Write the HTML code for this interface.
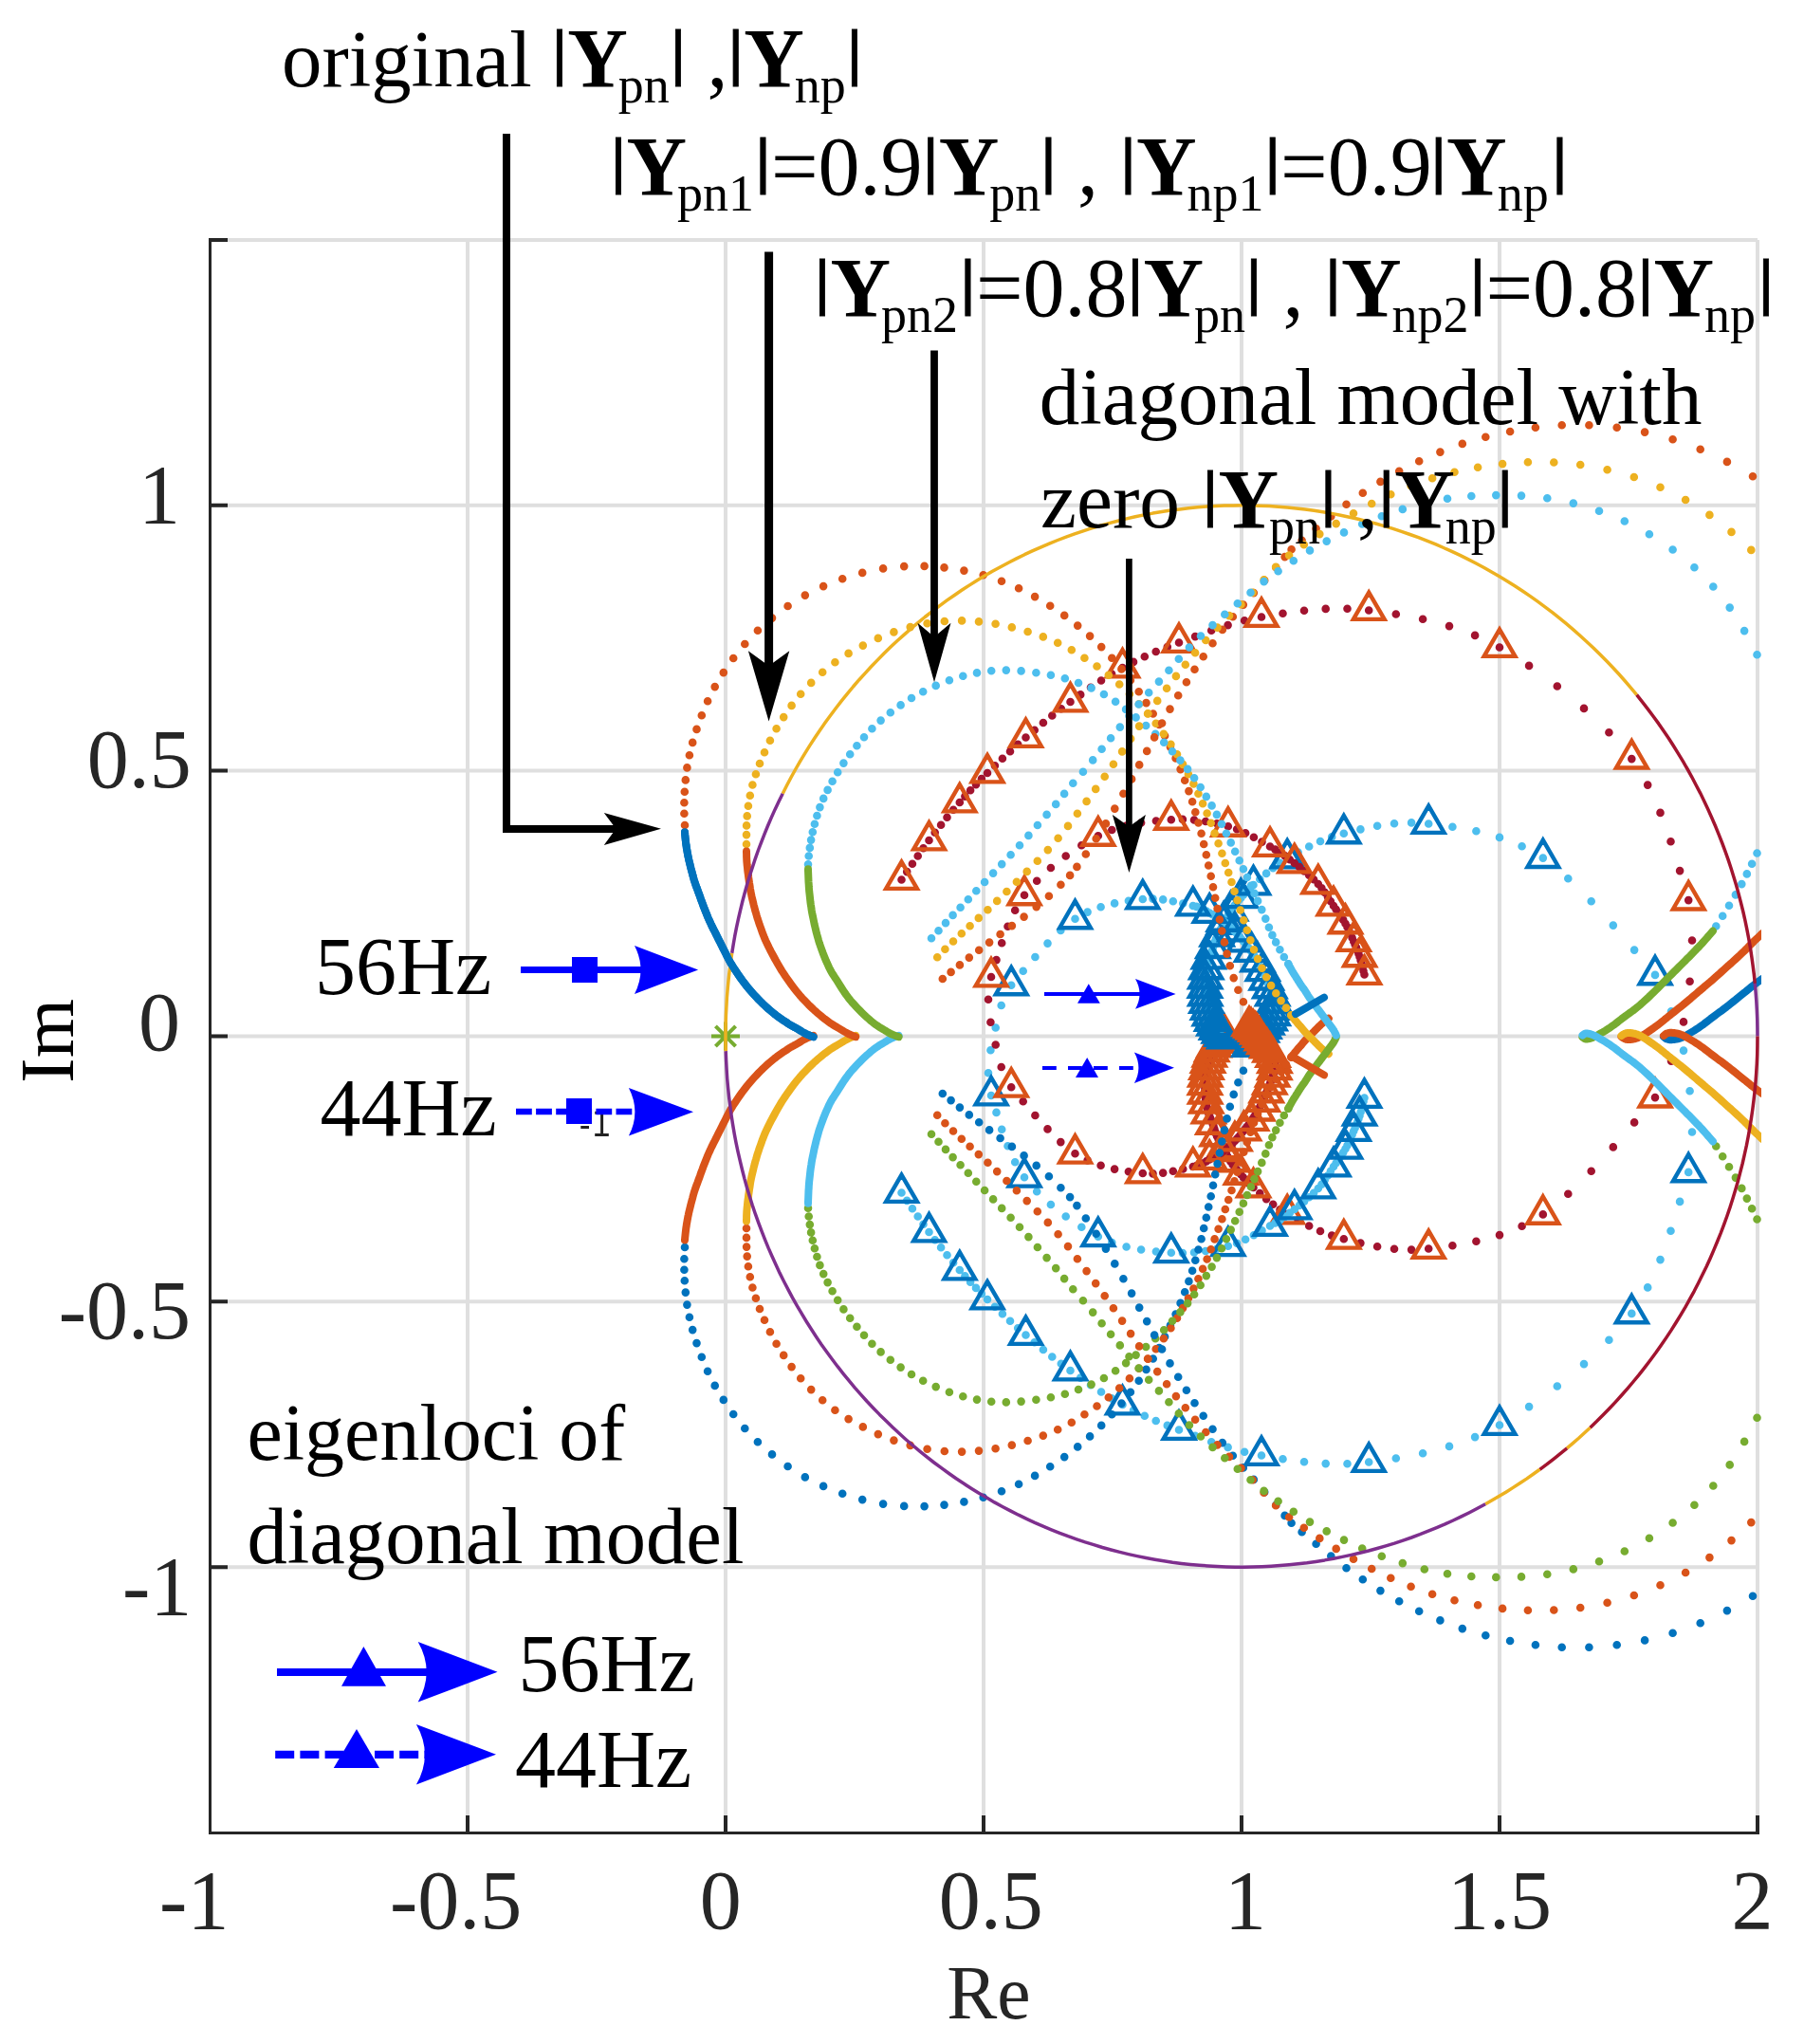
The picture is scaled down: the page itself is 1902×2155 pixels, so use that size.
<!DOCTYPE html>
<html><head><meta charset="utf-8"><title>Eigenloci</title>
<style>
html,body{margin:0;padding:0;background:#fff}
svg{display:block}
text{font-family:"Liberation Serif",serif}
</style></head><body>
<svg width="1902" height="2155" viewBox="0 0 1902 2155">
<defs><clipPath id="ax"><rect x="218" y="251" width="1639" height="1682"/></clipPath></defs>
<rect width="1902" height="2155" fill="#fff"/>
<line x1="493" y1="253" x2="493" y2="1933" stroke="#dfdfdf" stroke-width="4"/>
<line x1="765" y1="253" x2="765" y2="1933" stroke="#dfdfdf" stroke-width="4"/>
<line x1="1037" y1="253" x2="1037" y2="1933" stroke="#dfdfdf" stroke-width="4"/>
<line x1="1309" y1="253" x2="1309" y2="1933" stroke="#dfdfdf" stroke-width="4"/>
<line x1="1581" y1="253" x2="1581" y2="1933" stroke="#dfdfdf" stroke-width="4"/>
<line x1="1853" y1="253" x2="1853" y2="1933" stroke="#dfdfdf" stroke-width="4"/>
<line x1="221" y1="1652.2" x2="1853" y2="1652.2" stroke="#dfdfdf" stroke-width="4"/>
<line x1="221" y1="1372.3" x2="1853" y2="1372.3" stroke="#dfdfdf" stroke-width="4"/>
<line x1="221" y1="1092.5" x2="1853" y2="1092.5" stroke="#dfdfdf" stroke-width="4"/>
<line x1="221" y1="812.6" x2="1853" y2="812.6" stroke="#dfdfdf" stroke-width="4"/>
<line x1="221" y1="532.8" x2="1853" y2="532.8" stroke="#dfdfdf" stroke-width="4"/>
<line x1="221" y1="252.9" x2="1853" y2="252.9" stroke="#dfdfdf" stroke-width="4"/>
<g clip-path="url(#ax)">
<path d="M950.5 927.5h.01M956.2 919.1h.01M961.9 910.8h.01M967.7 902.5h.01M973.5 894.2h.01M979.5 886h.01M985.7 877.8h.01M992.1 869.7h.01M998.5 861.7h.01M1005.1 853.8h.01M1011.8 846h.01M1017.4 839.6h.01M1023.1 833.3h.01M1029 827.1h.01M1034.9 821h.01M1041 815h.01M1048.9 807.3h.01M1056.9 799.7h.01M1065 792.2h.01M1073.2 784.8h.01M1081.5 777.5h.01M1090.7 769.7h.01M1099.9 762h.01M1109.3 754.5h.01M1118.8 747.2h.01M1128.5 740h.01M1139.2 732.4h.01M1150 724.8h.01M1161 717.5h.01M1172.1 710.6h.01M1183.5 704h.01M1195 697.9h.01M1206.8 692.2h.01M1218.7 687h.01M1230.8 682.1h.01M1243 677.5h.01M1260.1 671.1h.01M1277.2 664.8h.01M1294.6 659.1h.01M1312.1 654.2h.01M1330 650.5h.01M1352.5 646.8h.01M1375 643.7h.01M1397.7 641.9h.01M1420.5 641.7h.01M1443.2 643.5h.01M1471.8 647.5h.01M1500.1 652.8h.01M1528 660.1h.01M1555.1 669.9h.01M1581 682.5h.01M1612.1 701.9h.01M1641.8 723.5h.01M1670 746.9h.01M1696.4 772.3h.01M1720.3 800.1h.01M1737.2 827.6h.01M1750.5 856.9h.01M1761.5 887.3h.01M1771.1 918.1h.01M1780.2 949.1h.01M1784 991.5h.01M1781.6 1034.7h.01M1775 1077.4h.01M1762 1118.6h.01M1745 1157.1h.01M1723.1 1183.4h.01M1700.8 1209.4h.01M1677.7 1234.7h.01M1653.3 1258.8h.01M1626.8 1280.4h.01M1604.6 1292.8h.01M1581 1302.1h.01M1556.4 1308.7h.01M1531.4 1313.2h.01M1506.2 1316.5h.01M1488.1 1317.6h.01M1470 1316.8h.01M1452.1 1314.3h.01M1434.4 1310.6h.01M1416.8 1306.2h.01M1404.2 1302.6h.01M1392 1298h.01M1380.2 1292.5h.01M1368.6 1286.4h.01M1357.2 1280h.01M1349.5 1275.2h.01M1342.2 1269.8h.01M1335.1 1264.1h.01M1328.3 1258h.01M1321.5 1252h.01M1318.6 1249.5h.01M1315.9 1246.9h.01M1313.2 1244.1h.01M1310.8 1241.2h.01M1308.3 1238.3h.01M1306 1235.7h.01M1303.8 1233.1h.01M1301.6 1230.4h.01M1299.5 1227.6h.01M1297.5 1224.8h.01M1295.8 1222.1h.01M1294.3 1219.3h.01M1292.9 1216.4h.01M1291.5 1213.5h.01M1290.1 1210.7h.01M1288.7 1208.2h.01M1287.2 1205.6h.01M1285.8 1203.1h.01M1284.4 1200.6h.01M1283.1 1197.9h.01M1282.1 1195.5h.01M1281.2 1193h.01M1280.4 1190.4h.01M1279.6 1187.9h.01M1278.8 1185.4h.01M1277.9 1183.1h.01M1277 1180.8h.01M1276 1178.6h.01M1275.1 1176.3h.01M1274.3 1174h.01M1273.7 1171.9h.01M1273.1 1169.7h.01M1272.6 1167.6h.01M1272.1 1165.4h.01M1271.7 1163.2h.01M1271.4 1161.2h.01M1271.1 1159.2h.01M1270.9 1157.1h.01M1270.7 1155.1h.01M1270.6 1153.1h.01M1270.5 1151.2h.01M1270.5 1149.3h.01M1270.4 1147.5h.01M1270.4 1145.6h.01M1270.4 1143.7h.01M1270.4 1142h.01M1270.5 1140.3h.01M1270.5 1138.6h.01M1270.6 1136.9h.01M1270.7 1135.2h.01M1270.9 1133.6h.01M1271.1 1132.1h.01M1271.3 1130.5h.01M1271.6 1129h.01M1271.9 1127.5h.01M1272.2 1126.1h.01M1272.5 1124.7h.01M1272.8 1123.3h.01M1273.1 1121.9h.01M1273.5 1120.5h.01M1273.8 1119.2h.01M1274.1 1118h.01M1274.5 1116.7h.01M1274.9 1115.5h.01M1275.3 1114.2h.01M1275.7 1113.1h.01M1276.1 1112h.01M1276.6 1110.9h.01M1277.1 1109.8h.01M1277.6 1108.7h.01M1278 1107.7h.01M1278.5 1106.7h.01M1279 1105.7h.01M1279.5 1104.7h.01M1280 1103.8h.01M1280.5 1102.9h.01M1281 1102h.01M1281.5 1101.2h.01M1282.1 1100.3h.01M1282.6 1099.5h.01M1283.1 1098.7h.01M1283.7 1098h.01M1284.2 1097.3h.01M1284.8 1096.5h.01M1285.3 1095.8h.01M1285.9 1095.2h.01M1286.4 1094.5h.01M1287 1093.9h.01M1287.6 1093.3h.01M1288.2 1092.7h.01M1288.7 1092.2h.01M1289.2 1091.6h.01M1289.8 1091.1h.01M1290.4 1090.6h.01M1290.9 1090.1h.01" stroke="#A2142F" stroke-width="8.6" stroke-linecap="round" fill="none"/>
<path d="M950.5 908.6l16.4 28.3h-32.7zM979.5 867.1l16.4 28.3h-32.7zM1011.8 827.1l16.4 28.3h-32.7zM1041 796.1l16.4 28.3h-32.7zM1081.5 758.6l16.4 28.3h-32.7zM1128.5 721.1l16.4 28.3h-32.7zM1183.5 685.1l16.4 28.3h-32.7zM1243 658.6l16.4 28.3h-32.7zM1330 631.6l16.4 28.3h-32.7zM1443.2 624.6l16.4 28.3h-32.7zM1581 663.6l16.4 28.3h-32.7zM1720.3 781.2l16.4 28.3h-32.7zM1780.2 930.2l16.4 28.3h-32.7zM1745 1138.2l16.4 28.3h-32.7zM1626.8 1261.5l16.4 28.3h-32.7zM1506.2 1297.6l16.4 28.3h-32.7zM1416.8 1287.3l16.4 28.3h-32.7zM1357.2 1261.1l16.4 28.3h-32.7zM1321.5 1233.1l16.4 28.3h-32.7zM1308.3 1219.4l16.4 28.3h-32.7zM1297.5 1205.9l16.4 28.3h-32.7zM1290.1 1191.8l16.4 28.3h-32.7zM1283.1 1179l16.4 28.3h-32.7zM1278.8 1166.5l16.4 28.3h-32.7zM1274.3 1155.1l16.4 28.3h-32.7zM1271.7 1144.3l16.4 28.3h-32.7zM1270.6 1134.2l16.4 28.3h-32.7zM1270.4 1124.8l16.4 28.3h-32.7zM1270.7 1116.3l16.4 28.3h-32.7zM1271.9 1108.6l16.4 28.3h-32.7zM1273.5 1101.6l16.4 28.3h-32.7zM1275.3 1095.3l16.4 28.3h-32.7zM1277.6 1089.8l16.4 28.3h-32.7zM1280 1084.9l16.4 28.3h-32.7zM1282.6 1080.6l16.4 28.3h-32.7zM1285.3 1076.9l16.4 28.3h-32.7zM1288.2 1073.8l16.4 28.3h-32.7zM1290.9 1071.2l16.4 28.3h-32.7z" stroke="#D95319" stroke-width="4.4" stroke-linejoin="miter" fill="none"/>
<path d="M950.5 1257.5h.01M956.2 1265.9h.01M961.9 1274.2h.01M967.7 1282.5h.01M973.5 1290.8h.01M979.5 1299h.01M985.7 1307.2h.01M992.1 1315.3h.01M998.5 1323.3h.01M1005.1 1331.2h.01M1011.8 1339h.01M1017.4 1345.4h.01M1023.1 1351.7h.01M1029 1357.9h.01M1034.9 1364h.01M1041 1370h.01M1048.9 1377.7h.01M1056.9 1385.3h.01M1065 1392.8h.01M1073.2 1400.2h.01M1081.5 1407.5h.01M1090.7 1415.3h.01M1099.9 1423h.01M1109.3 1430.5h.01M1118.8 1437.8h.01M1128.5 1445h.01M1139.2 1452.6h.01M1150 1460.2h.01M1161 1467.5h.01M1172.1 1474.4h.01M1183.5 1481h.01M1195 1487.1h.01M1206.8 1492.8h.01M1218.7 1498h.01M1230.8 1502.9h.01M1243 1507.5h.01M1260.1 1513.9h.01M1277.2 1520.2h.01M1294.6 1525.9h.01M1312.1 1530.8h.01M1330 1534.5h.01M1352.5 1538.2h.01M1375 1541.3h.01M1397.7 1543.1h.01M1420.5 1543.3h.01M1443.2 1541.5h.01M1471.8 1537.5h.01M1500.1 1532.2h.01M1528 1524.9h.01M1555.1 1515.1h.01M1581 1502.5h.01M1612.1 1483.1h.01M1641.8 1461.5h.01M1670 1438.1h.01M1696.4 1412.7h.01M1720.3 1384.9h.01M1737.2 1357.4h.01M1750.5 1328.1h.01M1761.5 1297.7h.01M1771.1 1266.9h.01M1780.2 1235.9h.01M1784 1193.5h.01M1781.6 1150.3h.01M1775 1107.6h.01M1762 1066.4h.01M1745 1027.9h.01M1723.1 1001.6h.01M1700.8 975.6h.01M1677.7 950.3h.01M1653.3 926.2h.01M1626.8 904.6h.01M1604.6 892.2h.01M1581 882.9h.01M1556.4 876.3h.01M1531.4 871.8h.01M1506.2 868.5h.01M1488.1 867.4h.01M1470 868.2h.01M1452.1 870.7h.01M1434.4 874.4h.01M1416.8 878.8h.01M1404.2 882.4h.01M1392 887h.01M1380.2 892.5h.01M1368.6 898.6h.01M1357.2 905h.01M1349.5 909.8h.01M1342.2 915.2h.01M1335.1 920.9h.01M1328.3 927h.01M1321.5 933h.01M1318.6 935.5h.01M1315.9 938.1h.01M1313.2 940.9h.01M1310.8 943.8h.01M1308.3 946.7h.01M1306 949.3h.01M1303.8 951.9h.01M1301.6 954.6h.01M1299.5 957.4h.01M1297.5 960.2h.01M1295.8 962.9h.01M1294.3 965.7h.01M1292.9 968.6h.01M1291.5 971.5h.01M1290.1 974.3h.01M1288.7 976.8h.01M1287.2 979.4h.01M1285.8 981.9h.01M1284.4 984.4h.01M1283.1 987.1h.01M1282.1 989.5h.01M1281.2 992h.01M1280.4 994.6h.01M1279.6 997.1h.01M1278.8 999.6h.01M1277.9 1001.9h.01M1277 1004.2h.01M1276 1006.4h.01M1275.1 1008.7h.01M1274.3 1011h.01M1273.7 1013.1h.01M1273.1 1015.3h.01M1272.6 1017.4h.01M1272.1 1019.6h.01M1271.7 1021.8h.01M1271.4 1023.8h.01M1271.1 1025.8h.01M1270.9 1027.9h.01M1270.7 1029.9h.01M1270.6 1031.9h.01M1270.5 1033.8h.01M1270.5 1035.7h.01M1270.4 1037.5h.01M1270.4 1039.4h.01M1270.4 1041.3h.01M1270.4 1043h.01M1270.5 1044.7h.01M1270.5 1046.4h.01M1270.6 1048.1h.01M1270.7 1049.8h.01M1270.9 1051.4h.01M1271.1 1052.9h.01M1271.3 1054.5h.01M1271.6 1056h.01M1271.9 1057.5h.01M1272.2 1058.9h.01M1272.5 1060.3h.01M1272.8 1061.7h.01M1273.1 1063.1h.01M1273.5 1064.5h.01M1273.8 1065.8h.01M1274.1 1067h.01M1274.5 1068.3h.01M1274.9 1069.5h.01M1275.3 1070.8h.01M1275.7 1071.9h.01M1276.1 1073h.01M1276.6 1074.1h.01M1277.1 1075.2h.01M1277.6 1076.3h.01M1278 1077.3h.01M1278.5 1078.3h.01M1279 1079.3h.01M1279.5 1080.3h.01M1280 1081.2h.01M1280.5 1082.1h.01M1281 1083h.01M1281.5 1083.8h.01M1282.1 1084.7h.01M1282.6 1085.5h.01M1283.1 1086.3h.01M1283.7 1087h.01M1284.2 1087.7h.01M1284.8 1088.5h.01M1285.3 1089.2h.01M1285.9 1089.8h.01M1286.4 1090.5h.01M1287 1091.1h.01M1287.6 1091.7h.01M1288.2 1092.3h.01M1288.7 1092.8h.01M1289.2 1093.4h.01M1289.8 1093.9h.01M1290.4 1094.4h.01M1290.9 1094.9h.01" stroke="#4DBEEE" stroke-width="8.6" stroke-linecap="round" fill="none"/>
<path d="M950.5 1238.6l16.4 28.3h-32.7zM979.5 1280.1l16.4 28.3h-32.7zM1011.8 1320.1l16.4 28.3h-32.7zM1041 1351.1l16.4 28.3h-32.7zM1081.5 1388.6l16.4 28.3h-32.7zM1128.5 1426.1l16.4 28.3h-32.7zM1183.5 1462.1l16.4 28.3h-32.7zM1243 1488.6l16.4 28.3h-32.7zM1330 1515.6l16.4 28.3h-32.7zM1443.2 1522.6l16.4 28.3h-32.7zM1581 1483.6l16.4 28.3h-32.7zM1720.3 1366l16.4 28.3h-32.7zM1780.2 1217l16.4 28.3h-32.7zM1745 1009l16.4 28.3h-32.7zM1626.8 885.7l16.4 28.3h-32.7zM1506.2 849.6l16.4 28.3h-32.7zM1416.8 859.9l16.4 28.3h-32.7zM1357.2 886.1l16.4 28.3h-32.7zM1321.5 914.1l16.4 28.3h-32.7zM1308.3 927.8l16.4 28.3h-32.7zM1297.5 941.3l16.4 28.3h-32.7zM1290.1 955.4l16.4 28.3h-32.7zM1283.1 968.2l16.4 28.3h-32.7zM1278.8 980.7l16.4 28.3h-32.7zM1274.3 992.1l16.4 28.3h-32.7zM1271.7 1002.9l16.4 28.3h-32.7zM1270.6 1013l16.4 28.3h-32.7zM1270.4 1022.4l16.4 28.3h-32.7zM1270.7 1030.9l16.4 28.3h-32.7zM1271.9 1038.6l16.4 28.3h-32.7zM1273.5 1045.6l16.4 28.3h-32.7zM1275.3 1051.9l16.4 28.3h-32.7zM1277.6 1057.4l16.4 28.3h-32.7zM1280 1062.3l16.4 28.3h-32.7zM1282.6 1066.6l16.4 28.3h-32.7zM1285.3 1070.3l16.4 28.3h-32.7zM1288.2 1073.4l16.4 28.3h-32.7zM1290.9 1076l16.4 28.3h-32.7z" stroke="#0072BD" stroke-width="4.4" stroke-linejoin="miter" fill="none"/>
<path d="M1438.5 1157.5h.01M1437.5 1161.3h.01M1436.6 1165h.01M1435.6 1168.8h.01M1434.6 1172.5h.01M1433.5 1176.2h.01M1432.4 1179.6h.01M1431.2 1182.8h.01M1429.9 1186.1h.01M1428.6 1189.3h.01M1427.2 1192.5h.01M1425.6 1196.3h.01M1424 1200.1h.01M1422.3 1203.9h.01M1420.5 1207.6h.01M1418.5 1211.2h.01M1416.2 1215.1h.01M1413.7 1218.9h.01M1411.2 1222.6h.01M1408.6 1226.3h.01M1406 1230h.01M1402.9 1234.7h.01M1399.9 1239.5h.01M1396.7 1244.1h.01M1393.4 1248.7h.01M1389.8 1253h.01M1385.1 1257.8h.01M1380.2 1262.3h.01M1375.1 1266.6h.01M1370 1270.9h.01M1364.8 1275h.01M1359.8 1278.8h.01M1354.8 1282.6h.01M1349.7 1286.1h.01M1344.4 1289.4h.01M1339 1292.5h.01M1330.5 1297.4h.01M1321.9 1302.2h.01M1313.1 1306.7h.01M1304.1 1310.7h.01M1294.8 1313.8h.01M1283 1316.7h.01M1271.1 1319h.01M1259 1320.5h.01M1246.9 1321.1h.01M1234.8 1320.8h.01M1218.9 1319.5h.01M1203.1 1317.5h.01M1187.6 1314.5h.01M1172.3 1310h.01M1157.8 1303.8h.01M1140.3 1293.7h.01M1123.7 1282.5h.01M1107.9 1270h.01M1093.2 1256.3h.01M1080 1241.2h.01M1070.2 1225.3h.01M1062.5 1208.3h.01M1056.2 1190.7h.01M1050.5 1172.9h.01M1045 1155h.01M1042 1131.3h.01M1044.4 1107.2h.01M1049.7 1083.5h.01M1055.7 1060h.01M1066.2 1038.8h.01M1078.7 1023.8h.01M1091.4 1009h.01M1104.5 994.6h.01M1118.3 980.9h.01M1133.5 968.8h.01M1146.6 961.6h.01M1160.6 956.2h.01M1175.1 952.4h.01M1189.9 949.8h.01M1204.8 948h.01M1215.5 947.6h.01M1226.2 948.4h.01M1236.8 950.2h.01M1247.3 952.5h.01M1257.8 955h.01M1261.5 955.9h.01M1265.1 957h.01M1268.6 958.6h.01M1271.9 960.6h.01M1275.2 962.5h.01M1278.3 964.1h.01M1281.3 965.7h.01M1284.4 967.5h.01M1287.3 969.3h.01M1290.2 971.3h.01M1292.7 973.2h.01M1295.1 975.3h.01M1297.4 977.5h.01M1299.7 979.7h.01M1301.9 982h.01M1303.9 984.1h.01M1305.8 986.3h.01M1307.7 988.5h.01M1309.5 990.8h.01M1311.4 993h.01M1313.1 995.1h.01M1314.7 997.2h.01M1316.4 999.3h.01M1318 1001.4h.01M1319.5 1003.5h.01M1320.9 1005.6h.01M1322.2 1007.6h.01M1323.5 1009.7h.01M1324.7 1011.8h.01M1325.9 1013.9h.01M1327.1 1015.8h.01M1328.1 1017.8h.01M1329.2 1019.7h.01M1330.2 1021.7h.01M1331.2 1023.7h.01M1332.1 1025.6h.01M1332.9 1027.5h.01M1333.6 1029.3h.01M1334.4 1031.2h.01M1335.2 1033.1h.01M1335.9 1034.9h.01M1336.6 1036.6h.01M1337.3 1038.3h.01M1338 1040h.01M1338.7 1041.8h.01M1339.3 1043.4h.01M1339.9 1045h.01M1340.5 1046.6h.01M1341.1 1048.2h.01M1341.6 1049.8h.01M1342.1 1051.3h.01M1342.6 1052.8h.01M1343 1054.3h.01M1343.4 1055.8h.01M1343.7 1057.3h.01M1343.9 1058.7h.01M1344 1060.2h.01M1344 1061.6h.01M1344 1063h.01M1343.9 1064.4h.01M1343.7 1065.7h.01M1343.4 1067h.01M1343 1068.3h.01M1342.6 1069.5h.01M1342.1 1070.7h.01M1341.6 1071.8h.01M1341 1072.8h.01M1340.4 1073.8h.01M1339.7 1074.8h.01M1339 1075.8h.01M1338.4 1076.7h.01M1337.8 1077.6h.01M1337.1 1078.5h.01M1336.4 1079.3h.01M1335.8 1080.2h.01M1335.2 1081h.01M1334.6 1081.8h.01M1334 1082.6h.01M1333.4 1083.5h.01M1332.8 1084.3h.01M1332.3 1085h.01M1331.8 1085.8h.01M1331.3 1086.6h.01M1330.8 1087.4h.01M1330.3 1088.1h.01M1329.9 1088.8h.01M1329.4 1089.5h.01M1329 1090.3h.01M1328.5 1091h.01M1328.1 1091.7h.01M1327.6 1092.3h.01M1327.2 1092.9h.01M1326.8 1093.6h.01M1326.3 1094.2h.01M1325.9 1094.8h.01M1325.5 1095.4h.01M1325 1095.9h.01M1324.6 1096.5h.01M1324.1 1097h.01M1323.7 1097.5h.01M1323.2 1098h.01M1322.7 1098.4h.01M1322.3 1098.9h.01M1321.8 1099.3h.01M1321.3 1099.8h.01M1320.9 1100.1h.01M1320.4 1100.5h.01M1320 1100.9h.01M1319.5 1101.3h.01M1319.1 1101.6h.01M1318.6 1102h.01M1318.2 1102.3h.01M1317.8 1102.6h.01M1317.4 1103h.01M1317 1103.3h.01" stroke="#4DBEEE" stroke-width="8.6" stroke-linecap="round" fill="none"/>
<path d="M1438.5 1138.6l16.4 28.3h-32.7zM1433.5 1157.3l16.4 28.3h-32.7zM1427.2 1173.6l16.4 28.3h-32.7zM1418.5 1192.3l16.4 28.3h-32.7zM1406 1211.1l16.4 28.3h-32.7zM1389.8 1234.1l16.4 28.3h-32.7zM1364.8 1256.1l16.4 28.3h-32.7zM1339 1273.6l16.4 28.3h-32.7zM1294.8 1294.8l16.4 28.3h-32.7zM1234.8 1301.8l16.4 28.3h-32.7zM1157.8 1284.8l16.4 28.3h-32.7zM1080 1222.3l16.4 28.3h-32.7zM1045 1136.1l16.4 28.3h-32.7zM1066.2 1019.9l16.4 28.3h-32.7zM1133.5 949.9l16.4 28.3h-32.7zM1204.8 929.1l16.4 28.3h-32.7zM1257.8 936.1l16.4 28.3h-32.7zM1275.2 943.6l16.4 28.3h-32.7zM1290.2 952.4l16.4 28.3h-32.7zM1301.9 963.1l16.4 28.3h-32.7zM1311.4 974.1l16.4 28.3h-32.7zM1319.5 984.6l16.4 28.3h-32.7zM1325.9 995l16.4 28.3h-32.7zM1331.2 1004.8l16.4 28.3h-32.7zM1335.2 1014.2l16.4 28.3h-32.7zM1338.7 1022.9l16.4 28.3h-32.7zM1341.6 1030.9l16.4 28.3h-32.7zM1343.7 1038.4l16.4 28.3h-32.7zM1343.9 1045.5l16.4 28.3h-32.7zM1342.1 1051.8l16.4 28.3h-32.7zM1339 1056.9l16.4 28.3h-32.7zM1335.8 1061.3l16.4 28.3h-32.7zM1332.8 1065.4l16.4 28.3h-32.7zM1330.3 1069.2l16.4 28.3h-32.7zM1328.1 1072.8l16.4 28.3h-32.7zM1325.9 1075.9l16.4 28.3h-32.7zM1323.7 1078.6l16.4 28.3h-32.7zM1321.3 1080.9l16.4 28.3h-32.7zM1319.1 1082.7l16.4 28.3h-32.7zM1317 1084.4l16.4 28.3h-32.7z" stroke="#0072BD" stroke-width="4.4" stroke-linejoin="miter" fill="none"/>
<path d="M1438.5 1027.5h.01M1437.5 1023.7h.01M1436.6 1020h.01M1435.6 1016.2h.01M1434.6 1012.5h.01M1433.5 1008.8h.01M1432.4 1005.4h.01M1431.2 1002.2h.01M1429.9 998.9h.01M1428.6 995.7h.01M1427.2 992.5h.01M1425.6 988.7h.01M1424 984.9h.01M1422.3 981.1h.01M1420.5 977.4h.01M1418.5 973.8h.01M1416.2 969.9h.01M1413.7 966.1h.01M1411.2 962.4h.01M1408.6 958.7h.01M1406 955h.01M1402.9 950.3h.01M1399.9 945.5h.01M1396.7 940.9h.01M1393.4 936.3h.01M1389.8 932h.01M1385.1 927.2h.01M1380.2 922.7h.01M1375.1 918.4h.01M1370 914.1h.01M1364.8 910h.01M1359.8 906.2h.01M1354.8 902.4h.01M1349.7 898.9h.01M1344.4 895.6h.01M1339 892.5h.01M1330.5 887.6h.01M1321.9 882.8h.01M1313.1 878.3h.01M1304.1 874.3h.01M1294.8 871.2h.01M1283 868.3h.01M1271.1 866h.01M1259 864.5h.01M1246.9 863.9h.01M1234.8 864.2h.01M1218.9 865.5h.01M1203.1 867.5h.01M1187.6 870.5h.01M1172.3 875h.01M1157.8 881.2h.01M1140.3 891.3h.01M1123.7 902.5h.01M1107.9 915h.01M1093.2 928.7h.01M1080 943.8h.01M1070.2 959.7h.01M1062.5 976.7h.01M1056.2 994.3h.01M1050.5 1012.1h.01M1045 1030h.01M1042 1053.7h.01M1044.4 1077.8h.01M1049.7 1101.5h.01M1055.7 1125h.01M1066.2 1146.2h.01M1078.7 1161.2h.01M1091.4 1176h.01M1104.5 1190.4h.01M1118.3 1204.1h.01M1133.5 1216.2h.01M1146.6 1223.4h.01M1160.6 1228.8h.01M1175.1 1232.6h.01M1189.9 1235.2h.01M1204.8 1237h.01M1215.5 1237.4h.01M1226.2 1236.6h.01M1236.8 1234.8h.01M1247.3 1232.5h.01M1257.8 1230h.01M1261.5 1229.1h.01M1265.1 1228h.01M1268.6 1226.4h.01M1271.9 1224.4h.01M1275.2 1222.5h.01M1278.3 1220.9h.01M1281.3 1219.3h.01M1284.4 1217.5h.01M1287.3 1215.7h.01M1290.2 1213.7h.01M1292.7 1211.8h.01M1295.1 1209.7h.01M1297.4 1207.5h.01M1299.7 1205.3h.01M1301.9 1203h.01M1303.9 1200.9h.01M1305.8 1198.7h.01M1307.7 1196.5h.01M1309.5 1194.2h.01M1311.4 1192h.01M1313.1 1189.9h.01M1314.7 1187.8h.01M1316.4 1185.7h.01M1318 1183.6h.01M1319.5 1181.5h.01M1320.9 1179.4h.01M1322.2 1177.4h.01M1323.5 1175.3h.01M1324.7 1173.2h.01M1325.9 1171.1h.01M1327.1 1169.2h.01M1328.1 1167.2h.01M1329.2 1165.3h.01M1330.2 1163.3h.01M1331.2 1161.3h.01M1332.1 1159.4h.01M1332.9 1157.5h.01M1333.6 1155.7h.01M1334.4 1153.8h.01M1335.2 1151.9h.01M1335.9 1150.1h.01M1336.6 1148.4h.01M1337.3 1146.7h.01M1338 1145h.01M1338.7 1143.2h.01M1339.3 1141.6h.01M1339.9 1140h.01M1340.5 1138.4h.01M1341.1 1136.8h.01M1341.6 1135.2h.01M1342.1 1133.7h.01M1342.6 1132.2h.01M1343 1130.7h.01M1343.4 1129.2h.01M1343.7 1127.7h.01M1343.9 1126.3h.01M1344 1124.8h.01M1344 1123.4h.01M1344 1122h.01M1343.9 1120.6h.01M1343.7 1119.3h.01M1343.4 1118h.01M1343 1116.7h.01M1342.6 1115.5h.01M1342.1 1114.3h.01M1341.6 1113.2h.01M1341 1112.2h.01M1340.4 1111.2h.01M1339.7 1110.2h.01M1339 1109.2h.01M1338.4 1108.3h.01M1337.8 1107.4h.01M1337.1 1106.5h.01M1336.4 1105.7h.01M1335.8 1104.8h.01M1335.2 1104h.01M1334.6 1103.2h.01M1334 1102.4h.01M1333.4 1101.5h.01M1332.8 1100.7h.01M1332.3 1100h.01M1331.8 1099.2h.01M1331.3 1098.4h.01M1330.8 1097.6h.01M1330.3 1096.9h.01M1329.9 1096.2h.01M1329.4 1095.5h.01M1329 1094.7h.01M1328.5 1094h.01M1328.1 1093.3h.01M1327.6 1092.7h.01M1327.2 1092.1h.01M1326.8 1091.4h.01M1326.3 1090.8h.01M1325.9 1090.2h.01M1325.5 1089.6h.01M1325 1089.1h.01M1324.6 1088.5h.01M1324.1 1088h.01M1323.7 1087.5h.01M1323.2 1087h.01M1322.7 1086.6h.01M1322.3 1086.1h.01M1321.8 1085.7h.01M1321.3 1085.2h.01M1320.9 1084.9h.01M1320.4 1084.5h.01M1320 1084.1h.01M1319.5 1083.7h.01M1319.1 1083.4h.01M1318.6 1083h.01M1318.2 1082.7h.01M1317.8 1082.4h.01M1317.4 1082h.01M1317 1081.7h.01" stroke="#A2142F" stroke-width="8.6" stroke-linecap="round" fill="none"/>
<path d="M1438.5 1008.6l16.4 28.3h-32.7zM1433.5 989.9l16.4 28.3h-32.7zM1427.2 973.6l16.4 28.3h-32.7zM1418.5 954.9l16.4 28.3h-32.7zM1406 936.1l16.4 28.3h-32.7zM1389.8 913.1l16.4 28.3h-32.7zM1364.8 891.1l16.4 28.3h-32.7zM1339 873.6l16.4 28.3h-32.7zM1294.8 852.4l16.4 28.3h-32.7zM1234.8 845.4l16.4 28.3h-32.7zM1157.8 862.4l16.4 28.3h-32.7zM1080 924.9l16.4 28.3h-32.7zM1045 1011.1l16.4 28.3h-32.7zM1066.2 1127.3l16.4 28.3h-32.7zM1133.5 1197.3l16.4 28.3h-32.7zM1204.8 1218.1l16.4 28.3h-32.7zM1257.8 1211.1l16.4 28.3h-32.7zM1275.2 1203.6l16.4 28.3h-32.7zM1290.2 1194.8l16.4 28.3h-32.7zM1301.9 1184.1l16.4 28.3h-32.7zM1311.4 1173.1l16.4 28.3h-32.7zM1319.5 1162.6l16.4 28.3h-32.7zM1325.9 1152.2l16.4 28.3h-32.7zM1331.2 1142.4l16.4 28.3h-32.7zM1335.2 1133l16.4 28.3h-32.7zM1338.7 1124.3l16.4 28.3h-32.7zM1341.6 1116.3l16.4 28.3h-32.7zM1343.7 1108.8l16.4 28.3h-32.7zM1343.9 1101.7l16.4 28.3h-32.7zM1342.1 1095.4l16.4 28.3h-32.7zM1339 1090.3l16.4 28.3h-32.7zM1335.8 1085.9l16.4 28.3h-32.7zM1332.8 1081.8l16.4 28.3h-32.7zM1330.3 1078l16.4 28.3h-32.7zM1328.1 1074.4l16.4 28.3h-32.7zM1325.9 1071.3l16.4 28.3h-32.7zM1323.7 1068.6l16.4 28.3h-32.7zM1321.3 1066.3l16.4 28.3h-32.7zM1319.1 1064.5l16.4 28.3h-32.7zM1317 1062.8l16.4 28.3h-32.7z" stroke="#D95319" stroke-width="4.4" stroke-linejoin="miter" fill="none"/>
<path d="M722 1315h.01M721.4 1327.2h.01M721.4 1338.8h.01M721.8 1350.3h.01M722.8 1362.6h.01M724.4 1375.6h.01M726.9 1388.8h.01M730.2 1402.1h.01M734.5 1416.1h.01M739.8 1430.8h.01M746.1 1445.8h.01M753.7 1460.9h.01M762.8 1475.9h.01M773.2 1491h.01M785.3 1506h.01M798.9 1520.2h.01M814 1533.4h.01M830.6 1546h.01M848.8 1557.4h.01M868.1 1566.9h.01M888.2 1574.7h.01M909.2 1581.1h.01M931.1 1585.6h.01M953.2 1587.9h.01M974.6 1588.1h.01M995.5 1586.6h.01M1016.4 1583.4h.01M1036.7 1578.7h.01M1056 1572.3h.01M1074.1 1564.7h.01M1091.1 1555.9h.01M1107.2 1546.2h.01M1122.2 1536.1h.01M1136.2 1525.4h.01M1149.1 1514.4h.01M1161.2 1502.9h.01M1172.3 1491.2h.01M1182.4 1479.6h.01M1191.9 1467.7h.01M1200.7 1455.7h.01M1208.5 1443.9h.01M1215.7 1432.5h.01M1222.1 1421.1h.01M1228.1 1409.3h.01M1233.9 1397.4h.01M1239.6 1385.6h.01M1244.6 1373.9h.01M1249.2 1362.3h.01M1253.4 1350.9h.01M1257.1 1339.8h.01M1260.3 1328.8h.01M1263.5 1317.5h.01M1266.6 1306.2h.01M1269.2 1295h.01M1271.8 1283.8h.01M1274.2 1272.5h.01M1276.7 1261.2h.01M1279 1249.8h.01M1281.2 1238.3h.01M1283.6 1227h.01M1285.9 1215.5h.01M1288.3 1203.5h.01M1290.9 1191.6h.01M1293.6 1179.4h.01M1296.8 1166.7h.01M1300.7 1153.9h.01M1305.4 1141.2h.01M1310.9 1128.8h.01" stroke="#0072BD" stroke-width="8.6" stroke-linecap="round" fill="none"/>
<path d="M722 870h.01M721.4 857.8h.01M721.4 846.2h.01M721.8 834.7h.01M722.8 822.4h.01M724.4 809.4h.01M726.9 796.2h.01M730.2 782.9h.01M734.5 768.9h.01M739.8 754.2h.01M746.1 739.2h.01M753.7 724.1h.01M762.8 709.1h.01M773.2 694h.01M785.3 679h.01M798.9 664.8h.01M814 651.6h.01M830.6 639h.01M848.8 627.6h.01M868.1 618.1h.01M888.2 610.3h.01M909.2 603.9h.01M931.1 599.4h.01M953.2 597.1h.01M974.6 596.9h.01M995.5 598.4h.01M1016.4 601.6h.01M1036.7 606.3h.01M1056 612.7h.01M1074.1 620.3h.01M1091.1 629.1h.01M1107.2 638.8h.01M1122.2 648.9h.01M1136.2 659.6h.01M1149.1 670.6h.01M1161.2 682.1h.01M1172.3 693.8h.01M1182.4 705.4h.01M1191.9 717.3h.01M1200.7 729.3h.01M1208.5 741.1h.01M1215.7 752.5h.01M1222.1 763.9h.01M1228.1 775.7h.01M1233.9 787.6h.01M1239.6 799.4h.01M1244.6 811.1h.01M1249.2 822.7h.01M1253.4 834.1h.01M1257.1 845.2h.01M1260.3 856.2h.01M1263.5 867.5h.01M1266.6 878.8h.01M1269.2 890h.01M1271.8 901.2h.01M1274.2 912.5h.01M1276.7 923.8h.01M1279 935.2h.01M1281.2 946.7h.01M1283.6 958h.01M1285.9 969.5h.01M1288.3 981.5h.01M1290.9 993.4h.01M1293.6 1005.6h.01M1296.8 1018.3h.01M1300.7 1031.1h.01M1305.4 1043.8h.01M1310.9 1056.2h.01" stroke="#D95319" stroke-width="8.6" stroke-linecap="round" fill="none"/>
<path d="M857.6 1091.8L856.7 1092.1L855.5 1092.6L854.1 1093.1L852.6 1093.8L851.1 1094.4L849.6 1095.1L848.2 1095.8L846.8 1096.6L845.4 1097.4L844 1098.3L842.5 1099.2L841 1100.1L839.5 1101L837.9 1101.8L836.3 1102.7L834.6 1103.6L832.8 1104.7L830.9 1105.9L828.8 1107.3L826.4 1108.8L824 1110.5L821.5 1112.3L819 1114.1L816.5 1116L814.1 1118L811.7 1120L809.2 1122.1L806.8 1124.4L804.4 1126.6L802 1129L799.6 1131.4L797.2 1133.9L794.9 1136.4L792.5 1139.1L790.1 1141.9L787.7 1144.8L785.2 1148L782.6 1151.4L780.1 1154.9L777.6 1158.5L775.3 1161.9L773.2 1165L771.5 1167.8L770 1170.3L768.7 1172.7L767.5 1175L766.3 1177.4L765 1180L763.6 1182.8L762.1 1185.7L760.6 1188.8L759.1 1191.8L757.6 1194.7L756.2 1197.5L754.9 1200.1L753.6 1202.7L752.3 1205.2L751.1 1207.6L749.9 1210L748.8 1212.5L747.6 1215L746.5 1217.5L745.5 1220L744.5 1222.5L743.5 1225L742.5 1227.5L741.5 1230L740.6 1232.6L739.6 1235.2L738.7 1237.7L737.9 1240.1L737 1242.5L736.2 1244.7L735.4 1246.9L734.6 1248.9L733.9 1250.9L733.2 1252.9L732.5 1255L731.8 1257.1L731.2 1259.3L730.6 1261.4L730.1 1263.5L729.5 1265.6L729 1267.5L728.5 1269.3L728.1 1271L727.7 1272.7L727.3 1274.3L726.9 1275.9L726.5 1277.5L726.1 1279.2L725.8 1280.8L725.4 1282.5L725.1 1284.2L724.8 1285.8L724.5 1287.5L724.2 1289.2L723.9 1290.8L723.7 1292.5L723.4 1294.2L723.2 1295.8L723 1297.5L722.8 1299.3L722.6 1301.2L722.4 1303.1L722.2 1304.9L722.1 1306.4L722 1307.5" stroke="#D95319" stroke-width="8.0" stroke-linecap="round" stroke-linejoin="round" fill="none"/>
<path d="M857.6 1093.2L856.7 1092.9L855.5 1092.4L854.1 1091.9L852.6 1091.2L851.1 1090.6L849.6 1089.9L848.2 1089.2L846.8 1088.4L845.4 1087.6L844 1086.7L842.5 1085.8L841 1084.9L839.5 1084L837.9 1083.2L836.3 1082.3L834.6 1081.4L832.8 1080.3L830.9 1079.1L828.8 1077.7L826.4 1076.2L824 1074.5L821.5 1072.7L819 1070.9L816.5 1069L814.1 1067L811.7 1065L809.2 1062.9L806.8 1060.6L804.4 1058.4L802 1056L799.6 1053.6L797.2 1051.1L794.9 1048.6L792.5 1045.9L790.1 1043.1L787.7 1040.2L785.2 1037L782.6 1033.6L780.1 1030.1L777.6 1026.5L775.3 1023.1L773.2 1020L771.5 1017.2L770 1014.7L768.7 1012.3L767.5 1010L766.3 1007.6L765 1005L763.6 1002.2L762.1 999.3L760.6 996.2L759.1 993.2L757.6 990.3L756.2 987.5L754.9 984.9L753.6 982.3L752.3 979.8L751.1 977.4L749.9 975L748.8 972.5L747.6 970L746.5 967.5L745.5 965L744.5 962.5L743.5 960L742.5 957.5L741.5 955L740.6 952.4L739.6 949.8L738.7 947.3L737.9 944.9L737 942.5L736.2 940.3L735.4 938.1L734.6 936.1L733.9 934.1L733.2 932.1L732.5 930L731.8 927.9L731.2 925.7L730.6 923.6L730.1 921.5L729.5 919.4L729 917.5L728.5 915.7L728.1 914L727.7 912.3L727.3 910.7L726.9 909.1L726.5 907.5L726.1 905.8L725.8 904.2L725.4 902.5L725.1 900.8L724.8 899.2L724.5 897.5L724.2 895.8L723.9 894.2L723.7 892.5L723.4 890.8L723.2 889.2L723 887.5L722.8 885.7L722.6 883.8L722.4 881.9L722.2 880.1L722.1 878.6L722 877.5" stroke="#0072BD" stroke-width="8.0" stroke-linecap="round" stroke-linejoin="round" fill="none"/>
<path d="M787 1295h.01M787 1304.9h.01M787.1 1314.6h.01M787.7 1324.6h.01M788.9 1335.2h.01M790.8 1346.2h.01M793.4 1357.5h.01M796.9 1368.8h.01M801 1380h.01M806 1391.7h.01M811.9 1404.2h.01M818.6 1416.8h.01M826.2 1428.9h.01M834.6 1441.1h.01M844.2 1453.3h.01M855.2 1465.1h.01M867.2 1476.3h.01M880.4 1486.8h.01M894.6 1496.1h.01M909.8 1504.4h.01M925.8 1512.1h.01M942.4 1518.6h.01M959.7 1523.9h.01M977.6 1527.8h.01M995.8 1530h.01M1014.1 1530.6h.01M1032 1529.6h.01M1049.6 1527.2h.01M1066.8 1523.6h.01M1083.6 1519h.01M1099.8 1513.6h.01M1115.2 1507.2h.01M1129.8 1499.7h.01M1143.4 1491.2h.01M1156.5 1482.5h.01M1168.8 1473.3h.01M1180.2 1463.5h.01M1190.9 1453.3h.01M1200.9 1442.8h.01M1210.1 1432.5h.01M1218.7 1422.2h.01M1226.9 1411.2h.01M1234.4 1400.3h.01M1241 1389.7h.01M1247.1 1379.1h.01M1252.9 1368.8h.01M1258.4 1358.6h.01M1263.4 1348.2h.01M1268.1 1337.7h.01M1272.6 1327.5h.01M1276.7 1317.2h.01M1280.6 1306.4h.01M1284.6 1295.7h.01M1288.4 1285.2h.01M1291.8 1275h.01M1295.2 1265h.01M1298.5 1255h.01M1301.5 1245.3h.01M1304.5 1235.7h.01M1307.7 1225.5h.01M1311.3 1214.8h.01M1314.8 1204.2h.01M1318.4 1193.8h.01M1322 1183.8h.01M1326.1 1174h.01M1330.5 1164.3h.01M1335.2 1154.8h.01M1340.1 1145.9h.01M1345.3 1137.7h.01M1350.6 1129.9h.01M1356 1122.4h.01M1361.3 1114.6h.01" stroke="#D95319" stroke-width="8.6" stroke-linecap="round" fill="none"/>
<path d="M787 890h.01M787 880.1h.01M787.1 870.4h.01M787.7 860.4h.01M788.9 849.8h.01M790.8 838.8h.01M793.4 827.5h.01M796.9 816.2h.01M801 805h.01M806 793.3h.01M811.9 780.8h.01M818.6 768.2h.01M826.2 756.1h.01M834.6 743.9h.01M844.2 731.7h.01M855.2 719.9h.01M867.2 708.7h.01M880.4 698.2h.01M894.6 688.9h.01M909.8 680.6h.01M925.8 672.9h.01M942.4 666.4h.01M959.7 661.1h.01M977.6 657.2h.01M995.8 655h.01M1014.1 654.4h.01M1032 655.4h.01M1049.6 657.8h.01M1066.8 661.4h.01M1083.6 666h.01M1099.8 671.4h.01M1115.2 677.8h.01M1129.8 685.3h.01M1143.4 693.8h.01M1156.5 702.5h.01M1168.8 711.7h.01M1180.2 721.5h.01M1190.9 731.7h.01M1200.9 742.2h.01M1210.1 752.5h.01M1218.7 762.8h.01M1226.9 773.8h.01M1234.4 784.7h.01M1241 795.3h.01M1247.1 805.9h.01M1252.9 816.2h.01M1258.4 826.4h.01M1263.4 836.8h.01M1268.1 847.3h.01M1272.6 857.5h.01M1276.7 867.8h.01M1280.6 878.6h.01M1284.6 889.3h.01M1288.4 899.8h.01M1291.8 910h.01M1295.2 920h.01M1298.5 930h.01M1301.5 939.7h.01M1304.5 949.3h.01M1307.7 959.5h.01M1311.3 970.2h.01M1314.8 980.8h.01M1318.4 991.2h.01M1322 1001.2h.01M1326.1 1011h.01M1330.5 1020.7h.01M1335.2 1030.2h.01M1340.1 1039.1h.01M1345.3 1047.3h.01M1350.6 1055.1h.01M1356 1062.6h.01M1361.3 1070.4h.01" stroke="#EDB120" stroke-width="8.6" stroke-linecap="round" fill="none"/>
<path d="M1361.3 1114.6L1361.8 1113.9L1362.6 1113L1363.4 1111.9L1364.4 1110.7L1365.3 1109.5L1366.3 1108.4L1367.1 1107.4L1368 1106.3L1368.9 1105.3L1369.8 1104.3L1370.7 1103.2L1371.6 1102.2L1372.5 1101.2L1373.3 1100.1L1374.2 1099L1375.1 1098L1376 1097L1376.9 1096L1377.8 1095.1L1378.7 1094.2L1379.6 1093.3L1380.4 1092.4L1381.3 1091.6L1382.2 1090.7L1383.1 1089.8L1384 1088.9L1384.9 1088L1385.8 1087.1L1386.7 1086.2L1387.5 1085.4L1388.4 1084.5L1389.3 1083.5L1390.2 1082.6L1391.1 1081.7L1392 1080.9L1392.9 1080L1393.8 1079.2L1394.7 1078.4L1395.7 1077.6L1396.6 1076.8L1397.4 1076.2L1398.2 1075.6L1398.8 1075.1L1399.4 1074.7L1399.8 1074.4L1400.3 1074.2L1400.6 1074L1400.8 1073.8" stroke="#D95319" stroke-width="8.0" stroke-linecap="round" stroke-linejoin="round" fill="none"/>
<path d="M1361.3 1070.4L1361.8 1071.1L1362.6 1072L1363.4 1073.1L1364.4 1074.3L1365.3 1075.5L1366.3 1076.6L1367.1 1077.6L1368 1078.7L1368.9 1079.7L1369.8 1080.7L1370.7 1081.8L1371.6 1082.8L1372.5 1083.8L1373.3 1084.9L1374.2 1086L1375.1 1087L1376 1088L1376.9 1089L1377.8 1089.9L1378.7 1090.8L1379.6 1091.7L1380.4 1092.6L1381.3 1093.4L1382.2 1094.3L1383.1 1095.2L1384 1096.1L1384.9 1097L1385.8 1097.9L1386.7 1098.8L1387.5 1099.6L1388.4 1100.5L1389.3 1101.5L1390.2 1102.4L1391.1 1103.3L1392 1104.1L1392.9 1105L1393.8 1105.8L1394.7 1106.6L1395.7 1107.4L1396.6 1108.2L1397.4 1108.8L1398.2 1109.4L1398.8 1109.9L1399.4 1110.3L1399.8 1110.6L1400.3 1110.8L1400.6 1111L1400.8 1111.2" stroke="#EDB120" stroke-width="8.0" stroke-linecap="round" stroke-linejoin="round" fill="none"/>
<path d="M902.2 1091.8L901.3 1092.1L900.2 1092.6L898.8 1093.1L897.3 1093.8L895.7 1094.4L894.3 1095.1L892.9 1095.8L891.6 1096.6L890.2 1097.4L888.8 1098.2L887.3 1099.1L885.7 1100.1L884 1101.1L882.2 1102.2L880.3 1103.3L878.3 1104.5L876.2 1105.8L874.1 1107.3L871.9 1108.9L869.5 1110.7L867.1 1112.6L864.6 1114.7L862.1 1116.8L859.7 1118.9L857.3 1121.1L854.8 1123.5L852.3 1125.9L849.9 1128.4L847.5 1130.9L845.3 1133.3L843.2 1135.7L841.3 1138L839.4 1140.3L837.5 1142.7L835.7 1145.1L833.8 1147.7L831.9 1150.3L830 1153L828.1 1155.7L826.2 1158.6L824.2 1161.6L822.2 1165L820 1168.8L817.6 1173L815.2 1177.5L812.8 1181.9L810.6 1186.2L808.8 1190L807.2 1193.4L805.9 1196.4L804.8 1199.2L803.7 1201.9L802.8 1204.7L801.8 1207.5L800.7 1210.4L799.8 1213.3L798.8 1216.2L797.9 1219.2L797.1 1222.1L796.2 1225L795.5 1227.9L794.7 1230.8L794 1233.8L793.3 1236.7L792.6 1239.6L792 1242.5L791.4 1245.4L790.9 1248.4L790.5 1251.4L790 1254.4L789.6 1257.2L789.2 1260L788.9 1262.7L788.5 1265.3L788.2 1267.8L788 1270.3L787.7 1272.7L787.5 1275L787.3 1277.4L787.2 1279.8L787.1 1282.2L787.1 1284.4L787 1286.2L787 1287.5" stroke="#EDB120" stroke-width="8.0" stroke-linecap="round" stroke-linejoin="round" fill="none"/>
<path d="M902.2 1093.2L901.3 1092.9L900.2 1092.4L898.8 1091.9L897.3 1091.2L895.7 1090.6L894.3 1089.9L892.9 1089.2L891.6 1088.4L890.2 1087.6L888.8 1086.8L887.3 1085.9L885.7 1084.9L884 1083.9L882.2 1082.8L880.3 1081.7L878.3 1080.5L876.2 1079.2L874.1 1077.7L871.9 1076.1L869.5 1074.3L867.1 1072.4L864.6 1070.3L862.1 1068.2L859.7 1066.1L857.3 1063.9L854.8 1061.5L852.3 1059.1L849.9 1056.6L847.5 1054.1L845.3 1051.7L843.2 1049.3L841.3 1047L839.4 1044.7L837.5 1042.3L835.7 1039.9L833.8 1037.3L831.9 1034.7L830 1032L828.1 1029.3L826.2 1026.4L824.2 1023.4L822.2 1020L820 1016.2L817.6 1012L815.2 1007.5L812.8 1003.1L810.6 998.8L808.8 995L807.2 991.6L805.9 988.6L804.8 985.8L803.7 983.1L802.8 980.3L801.8 977.5L800.7 974.6L799.8 971.7L798.8 968.8L797.9 965.8L797.1 962.9L796.2 960L795.5 957.1L794.7 954.2L794 951.2L793.3 948.3L792.6 945.4L792 942.5L791.4 939.6L790.9 936.6L790.5 933.6L790 930.6L789.6 927.8L789.2 925L788.9 922.3L788.5 919.7L788.2 917.2L788 914.7L787.7 912.3L787.5 910L787.3 907.6L787.2 905.2L787.1 902.8L787.1 900.6L787 898.8L787 897.5" stroke="#D95319" stroke-width="8.0" stroke-linecap="round" stroke-linejoin="round" fill="none"/>
<path d="M852 1273.8h.01M852.7 1282.5h.01M853.8 1291.1h.01M855.1 1299.4h.01M856.8 1307.7h.01M858.9 1316.2h.01M861.4 1325h.01M864.4 1333.9h.01M868.2 1343.1h.01M872.6 1352.1h.01M877.6 1361.3h.01M883.2 1370.8h.01M889.4 1380.4h.01M896.2 1389.8h.01M903.4 1398.8h.01M911 1407.7h.01M919.4 1416.8h.01M928.6 1425.4h.01M938.8 1433.7h.01M949.6 1441.6h.01M961 1449h.01M973.2 1455.8h.01M986.7 1462.1h.01M1000.9 1467.8h.01M1015.3 1472.2h.01M1030 1475.6h.01M1045.2 1477.8h.01M1060.8 1478.4h.01M1076.6 1477.6h.01M1092.4 1475.8h.01M1107.9 1473.3h.01M1122.8 1469.7h.01M1137 1465h.01M1150.6 1459.6h.01M1163.9 1453h.01M1176.1 1445.3h.01M1187.1 1437.1h.01M1197.6 1428.6h.01M1208.2 1420h.01M1218.2 1411.2h.01M1227.2 1402.2h.01M1236 1392.8h.01M1244.4 1383.4h.01M1252.1 1374.1h.01M1259.1 1364.7h.01M1265.7 1355h.01M1271.8 1345.1h.01M1277.6 1335.6h.01M1282.9 1326.1h.01M1288 1316.2h.01M1292.9 1306.2h.01M1297.7 1296.6h.01M1302.2 1287.2h.01M1306.7 1277.8h.01M1310.9 1268.8h.01M1314.9 1260h.01M1318.9 1251.2h.01M1322.5 1243.1h.01M1326.1 1235.1h.01M1330.3 1225.9h.01M1334.3 1216.4h.01M1337.9 1207.3h.01M1341.4 1199.1h.01M1345.2 1191.6h.01M1349.4 1183.8h.01M1353.8 1176h.01M1358.3 1168.7h.01" stroke="#77AC30" stroke-width="8.6" stroke-linecap="round" fill="none"/>
<path d="M852 911.2h.01M852.7 902.5h.01M853.8 893.9h.01M855.1 885.6h.01M856.8 877.3h.01M858.9 868.8h.01M861.4 860h.01M864.4 851.1h.01M868.2 841.9h.01M872.6 832.9h.01M877.6 823.7h.01M883.2 814.2h.01M889.4 804.6h.01M896.2 795.2h.01M903.4 786.2h.01M911 777.3h.01M919.4 768.2h.01M928.6 759.6h.01M938.8 751.3h.01M949.6 743.4h.01M961 736h.01M973.2 729.2h.01M986.7 722.9h.01M1000.9 717.2h.01M1015.3 712.8h.01M1030 709.4h.01M1045.2 707.2h.01M1060.8 706.6h.01M1076.6 707.4h.01M1092.4 709.2h.01M1107.9 711.7h.01M1122.8 715.3h.01M1137 720h.01M1150.6 725.4h.01M1163.9 732h.01M1176.1 739.7h.01M1187.1 747.9h.01M1197.6 756.4h.01M1208.2 765h.01M1218.2 773.8h.01M1227.2 782.8h.01M1236 792.2h.01M1244.4 801.6h.01M1252.1 810.9h.01M1259.1 820.3h.01M1265.7 830h.01M1271.8 839.9h.01M1277.6 849.4h.01M1282.9 858.9h.01M1288 868.8h.01M1292.9 878.8h.01M1297.7 888.4h.01M1302.2 897.8h.01M1306.7 907.2h.01M1310.9 916.2h.01M1314.9 925h.01M1318.9 933.8h.01M1322.5 941.9h.01M1326.1 949.9h.01M1330.3 959.1h.01M1334.3 968.6h.01M1337.9 977.7h.01M1341.4 985.9h.01M1345.2 993.4h.01M1349.4 1001.2h.01M1353.8 1009h.01M1358.3 1016.3h.01" stroke="#4DBEEE" stroke-width="8.6" stroke-linecap="round" fill="none"/>
<path d="M1358.3 1168.7L1358.8 1167.8L1359.4 1166.6L1360.2 1165.2L1361.1 1163.6L1361.9 1162.1L1362.7 1160.7L1363.4 1159.5L1364.2 1158.3L1364.9 1157.1L1365.7 1156L1366.4 1154.8L1367.1 1153.6L1367.9 1152.5L1368.6 1151.2L1369.4 1150L1370.1 1148.9L1370.8 1147.7L1371.6 1146.6L1372.3 1145.5L1373.1 1144.4L1373.8 1143.4L1374.5 1142.4L1375.3 1141.4L1376 1140.3L1376.7 1139.2L1377.5 1138L1378.2 1136.9L1378.9 1135.6L1379.7 1134.4L1380.4 1133.2L1381.3 1132.1L1382.2 1130.9L1383 1129.7L1384 1128.5L1384.9 1127.3L1385.8 1126.2L1386.7 1125L1387.5 1123.8L1388.4 1122.6L1389.3 1121.4L1390.2 1120.2L1391.1 1119.1L1392 1117.9L1392.9 1116.7L1393.7 1115.5L1394.6 1114.3L1395.5 1113.1L1396.4 1112L1397.3 1110.8L1398.2 1109.6L1399.1 1108.4L1400 1107.2L1400.9 1106L1401.7 1104.9L1402.5 1103.8L1403.3 1102.7L1404.1 1101.7L1404.9 1100.6L1405.5 1099.6L1406.2 1098.7L1406.7 1097.7L1407.3 1096.6L1407.8 1095.6L1408.2 1094.7L1408.6 1093.9L1408.8 1093.3" stroke="#77AC30" stroke-width="8.0" stroke-linecap="round" stroke-linejoin="round" fill="none"/>
<path d="M1358.3 1016.3L1358.8 1017.2L1359.4 1018.4L1360.2 1019.8L1361.1 1021.4L1361.9 1022.9L1362.7 1024.3L1363.4 1025.5L1364.2 1026.7L1364.9 1027.9L1365.7 1029L1366.4 1030.2L1367.1 1031.4L1367.9 1032.5L1368.6 1033.8L1369.4 1035L1370.1 1036.1L1370.8 1037.3L1371.6 1038.4L1372.3 1039.5L1373.1 1040.6L1373.8 1041.6L1374.5 1042.6L1375.3 1043.6L1376 1044.7L1376.7 1045.8L1377.5 1047L1378.2 1048.1L1378.9 1049.4L1379.7 1050.6L1380.4 1051.8L1381.3 1052.9L1382.2 1054.1L1383 1055.3L1384 1056.5L1384.9 1057.7L1385.8 1058.8L1386.7 1060L1387.5 1061.2L1388.4 1062.4L1389.3 1063.6L1390.2 1064.8L1391.1 1065.9L1392 1067.1L1392.9 1068.3L1393.7 1069.5L1394.6 1070.7L1395.5 1071.9L1396.4 1073L1397.3 1074.2L1398.2 1075.4L1399.1 1076.6L1400 1077.8L1400.9 1079L1401.7 1080.1L1402.5 1081.2L1403.3 1082.3L1404.1 1083.3L1404.9 1084.4L1405.5 1085.4L1406.2 1086.3L1406.7 1087.3L1407.3 1088.4L1407.8 1089.4L1408.2 1090.3L1408.6 1091.1L1408.8 1091.7" stroke="#4DBEEE" stroke-width="8.0" stroke-linecap="round" stroke-linejoin="round" fill="none"/>
<path d="M947.6 1091.8L946.7 1092.1L945.6 1092.5L944.1 1093L942.6 1093.6L941.1 1094.2L939.7 1094.8L938.4 1095.5L937.1 1096.1L935.9 1096.9L934.6 1097.7L933.2 1098.5L931.8 1099.4L930.3 1100.3L928.7 1101.2L927.1 1102.2L925.4 1103.3L923.6 1104.5L921.7 1105.9L919.7 1107.5L917.6 1109.2L915.5 1111.1L913.2 1113.1L911 1115.2L908.7 1117.4L906.3 1119.8L903.9 1122.3L901.4 1125L898.9 1127.7L896.5 1130.5L894.3 1133.3L892.2 1136.1L890.1 1139.1L888.2 1142L886.3 1145L884.5 1147.9L882.8 1150.6L881.2 1153.1L879.7 1155.3L878.3 1157.5L876.9 1159.7L875.5 1162.2L874.1 1165L872.6 1168.3L870.9 1172.1L869.3 1176.1L867.7 1180.1L866.3 1183.9L865 1187.5L863.9 1190.7L863 1193.7L862.2 1196.6L861.4 1199.4L860.7 1202.1L860 1205L859.3 1207.9L858.6 1210.8L858 1213.8L857.4 1216.7L856.8 1219.6L856.2 1222.5L855.7 1225.4L855.3 1228.4L854.8 1231.4L854.4 1234.4L854.1 1237.2L853.8 1240L853.5 1242.7L853.2 1245.2L853 1247.7L852.8 1250.2L852.7 1252.6L852.5 1255L852.4 1257.5L852.3 1260.2L852.2 1262.8L852.1 1265.2L852 1267.3L852 1268.8" stroke="#4DBEEE" stroke-width="8.0" stroke-linecap="round" stroke-linejoin="round" fill="none"/>
<path d="M947.6 1093.2L946.7 1092.9L945.6 1092.5L944.1 1092L942.6 1091.4L941.1 1090.8L939.7 1090.2L938.4 1089.5L937.1 1088.9L935.9 1088.1L934.6 1087.3L933.2 1086.5L931.8 1085.6L930.3 1084.7L928.7 1083.8L927.1 1082.8L925.4 1081.7L923.6 1080.5L921.7 1079.1L919.7 1077.5L917.6 1075.8L915.5 1073.9L913.2 1071.9L911 1069.8L908.7 1067.6L906.3 1065.2L903.9 1062.7L901.4 1060L898.9 1057.3L896.5 1054.5L894.3 1051.7L892.2 1048.9L890.1 1045.9L888.2 1043L886.3 1040L884.5 1037.1L882.8 1034.4L881.2 1031.9L879.7 1029.7L878.3 1027.5L876.9 1025.3L875.5 1022.8L874.1 1020L872.6 1016.7L870.9 1012.9L869.3 1008.9L867.7 1004.9L866.3 1001.1L865 997.5L863.9 994.3L863 991.3L862.2 988.4L861.4 985.6L860.7 982.9L860 980L859.3 977.1L858.6 974.2L858 971.2L857.4 968.3L856.8 965.4L856.2 962.5L855.7 959.6L855.3 956.6L854.8 953.6L854.4 950.6L854.1 947.8L853.8 945L853.5 942.3L853.2 939.8L853 937.3L852.8 934.8L852.7 932.4L852.5 930L852.4 927.5L852.3 924.8L852.2 922.2L852.1 919.8L852 917.7L852 916.2" stroke="#77AC30" stroke-width="8.0" stroke-linecap="round" stroke-linejoin="round" fill="none"/>
<path d="M1366 1116L1396 1133.4" stroke="#D95319" stroke-width="8.0" stroke-linecap="round" stroke-linejoin="round" fill="none"/>
<path d="M1366 1069L1396 1051.6" stroke="#0072BD" stroke-width="8.0" stroke-linecap="round" stroke-linejoin="round" fill="none"/>
<path d="M993.8 1153h.01M1002.6 1160.1h.01M1011.9 1167.6h.01M1021.8 1175.4h.01M1032.2 1183.2h.01M1043.1 1191.4h.01M1054.6 1200h.01M1066.9 1208.9h.01M1079.6 1218.4h.01M1092.7 1228.9h.01M1105.9 1240.3h.01M1118.4 1252.2h.01M1128.1 1262.1h.01M1135.4 1271.1h.01M1144.8 1284.5h.01M1155.7 1300.8h.01M1165.9 1316.6h.01M1175.3 1332.4h.01M1184.4 1348.2h.01M1193.1 1363.6h.01M1201.2 1378.6h.01M1209.2 1393.1h.01M1217.1 1407.6h.01M1225.1 1422.5h.01M1233.5 1437.4h.01M1242.2 1451.8h.01M1250.9 1465.7h.01M1259.5 1479.2h.01M1268.7 1492.8h.01M1278.5 1506.8h.01M1288.8 1521.1h.01M1299.8 1534.7h.01M1310.8 1547.4h.01M1321.8 1559.9h.01M1333.2 1573.1h.01M1345.3 1586.8h.01M1354.6 1597.9h.01M1361.6 1605.8h.01M1372.6 1615.3h.01M1387.6 1627.7h.01M1403.3 1640.6h.01M1419.5 1653.2h.01M1436.8 1665.3h.01M1455.4 1677.1h.01M1475.2 1688.3h.01M1496.2 1698.8h.01M1518.4 1708.4h.01M1541.8 1717.1h.01M1566.3 1724.2h.01M1592.1 1730h.01M1618.9 1734.2h.01M1646.7 1736.7h.01M1675.4 1736.8h.01M1704.7 1734.3h.01M1734.1 1729.4h.01M1763.6 1721.8h.01M1792.7 1711.3h.01M1820.9 1698.1h.01M1848 1682.8h.01" stroke="#0072BD" stroke-width="8.6" stroke-linecap="round" fill="none"/>
<path d="M993.8 1032h.01M1002.6 1024.9h.01M1011.9 1017.4h.01M1021.8 1009.6h.01M1032.2 1001.8h.01M1043.1 993.6h.01M1054.6 985h.01M1066.9 976.1h.01M1079.6 966.6h.01M1092.7 956.1h.01M1105.9 944.7h.01M1118.4 932.8h.01M1128.1 922.9h.01M1135.4 913.9h.01M1144.8 900.5h.01M1155.7 884.2h.01M1165.9 868.4h.01M1175.3 852.6h.01M1184.4 836.8h.01M1193.1 821.4h.01M1201.2 806.4h.01M1209.2 791.9h.01M1217.1 777.4h.01M1225.1 762.5h.01M1233.5 747.6h.01M1242.2 733.2h.01M1250.9 719.3h.01M1259.5 705.8h.01M1268.7 692.2h.01M1278.5 678.2h.01M1288.8 663.9h.01M1299.8 650.3h.01M1310.8 637.6h.01M1321.8 625.1h.01M1333.2 611.9h.01M1345.3 598.2h.01M1354.6 587.1h.01M1361.6 579.2h.01M1372.6 569.7h.01M1387.6 557.3h.01M1403.3 544.4h.01M1419.5 531.8h.01M1436.8 519.7h.01M1455.4 507.9h.01M1475.2 496.7h.01M1496.2 486.2h.01M1518.4 476.6h.01M1541.8 467.9h.01M1566.3 460.8h.01M1592.1 455h.01M1618.9 450.8h.01M1646.7 448.3h.01M1675.4 448.2h.01M1704.7 450.7h.01M1734.1 455.6h.01M1763.6 463.2h.01M1792.7 473.7h.01M1820.9 486.9h.01M1848 502.2h.01" stroke="#D95319" stroke-width="8.6" stroke-linecap="round" fill="none"/>
<path d="M988.2 1175.8h.01M996.4 1184.2h.01M1005 1192.5h.01M1013.8 1200.7h.01M1022.6 1208.8h.01M1031.8 1217.1h.01M1041.4 1225.8h.01M1051.2 1235.1h.01M1061.4 1245h.01M1071.9 1255.3h.01M1082.7 1266.1h.01M1093.8 1277.2h.01M1104.8 1288.9h.01M1115.6 1301.2h.01M1126 1314.1h.01M1135.9 1327.2h.01M1145.6 1340.1h.01M1155.2 1353.1h.01M1164.7 1366.2h.01M1173.9 1379.3h.01M1183.1 1392.6h.01M1192.1 1406.1h.01M1201.1 1419.4h.01M1210.4 1432.7h.01M1220.2 1446.1h.01M1230.1 1459.3h.01M1239.9 1472.1h.01M1249.8 1484.3h.01M1260.1 1496.7h.01M1271.3 1510h.01M1283.5 1523.4h.01M1296 1535.9h.01M1308.5 1547.8h.01M1320.7 1560.3h.01M1332.6 1573.8h.01M1345.1 1587.2h.01M1359.1 1599.5h.01M1374.8 1610.8h.01M1391.3 1621.9h.01M1408.7 1632.9h.01M1427 1643.7h.01M1446.2 1654h.01M1466.3 1663.7h.01M1487.6 1672.8h.01M1510.1 1680.8h.01M1533.5 1687.2h.01M1558.1 1692.3h.01M1584.1 1695.9h.01M1610.9 1697.8h.01M1638.3 1697.5h.01M1666.2 1695h.01M1694.6 1689.8h.01M1722.8 1682h.01M1750.5 1671.3h.01M1777.1 1658h.01M1802.4 1642.1h.01M1825.5 1624.1h.01M1846.3 1605.1h.01" stroke="#D95319" stroke-width="8.6" stroke-linecap="round" fill="none"/>
<path d="M988.2 1009.2h.01M996.4 1000.8h.01M1005 992.5h.01M1013.8 984.3h.01M1022.6 976.2h.01M1031.8 967.9h.01M1041.4 959.2h.01M1051.2 949.9h.01M1061.4 940h.01M1071.9 929.7h.01M1082.7 918.9h.01M1093.8 907.8h.01M1104.8 896.1h.01M1115.6 883.8h.01M1126 870.9h.01M1135.9 857.8h.01M1145.6 844.9h.01M1155.2 831.9h.01M1164.7 818.8h.01M1173.9 805.7h.01M1183.1 792.4h.01M1192.1 778.9h.01M1201.1 765.6h.01M1210.4 752.3h.01M1220.2 738.9h.01M1230.1 725.7h.01M1239.9 712.9h.01M1249.8 700.7h.01M1260.1 688.3h.01M1271.3 675h.01M1283.5 661.6h.01M1296 649.1h.01M1308.5 637.2h.01M1320.7 624.7h.01M1332.6 611.2h.01M1345.1 597.8h.01M1359.1 585.5h.01M1374.8 574.2h.01M1391.3 563.1h.01M1408.7 552.1h.01M1427 541.3h.01M1446.2 531h.01M1466.3 521.3h.01M1487.6 512.2h.01M1510.1 504.2h.01M1533.5 497.8h.01M1558.1 492.7h.01M1584.1 489.1h.01M1610.9 487.2h.01M1638.3 487.5h.01M1666.2 490h.01M1694.6 495.2h.01M1722.8 503h.01M1750.5 513.7h.01M1777.1 527h.01M1802.4 542.9h.01M1825.5 560.9h.01M1846.3 579.9h.01" stroke="#EDB120" stroke-width="8.6" stroke-linecap="round" fill="none"/>
<path d="M982 1195.8h.01M989.5 1203.8h.01M997 1211.9h.01M1004.6 1220.1h.01M1012.6 1228.3h.01M1020.8 1236.8h.01M1029.3 1245.7h.01M1038.1 1255h.01M1047.1 1264.4h.01M1056.2 1273.9h.01M1065.6 1283.8h.01M1075 1293.8h.01M1084.4 1304.1h.01M1093.9 1315h.01M1103.6 1326.1h.01M1113.2 1337.1h.01M1122.1 1348.1h.01M1131.3 1359.2h.01M1141.9 1371.2h.01M1152.2 1383.6h.01M1161.6 1395.2h.01M1171.1 1406.7h.01M1180.8 1418.4h.01M1190.5 1430.3h.01M1200.6 1442.5h.01M1211.2 1454.7h.01M1221.9 1466.4h.01M1232.4 1478.2h.01M1242.8 1490.2h.01M1253.9 1502.5h.01M1266 1514.5h.01M1278.5 1525.9h.01M1291.3 1537.3h.01M1304.8 1548.8h.01M1318.5 1560.3h.01M1332.6 1571.9h.01M1347.6 1582.8h.01M1363.8 1593.8h.01M1381 1604.6h.01M1398.7 1614.4h.01M1417 1623.6h.01M1436.2 1632.5h.01M1456.8 1640.8h.01M1478.8 1648.1h.01M1501.8 1654.5h.01M1526 1659.3h.01M1551.3 1662h.01M1577.3 1662.9h.01M1604 1662.4h.01M1631.3 1659.8h.01M1658.8 1654.4h.01M1686 1646.2h.01M1712.8 1635.5h.01M1738.9 1621.8h.01M1763.6 1605.5h.01M1786.4 1586.7h.01M1806.3 1566.5h.01M1823.7 1544.4h.01M1839.1 1519.9h.01M1852.5 1494.8h.01" stroke="#77AC30" stroke-width="8.6" stroke-linecap="round" fill="none"/>
<path d="M982 989.2h.01M989.5 981.2h.01M997 973.1h.01M1004.6 964.9h.01M1012.6 956.7h.01M1020.8 948.2h.01M1029.3 939.3h.01M1038.1 930h.01M1047.1 920.6h.01M1056.2 911.1h.01M1065.6 901.2h.01M1075 891.2h.01M1084.4 880.9h.01M1093.9 870h.01M1103.6 858.9h.01M1113.2 847.9h.01M1122.1 836.9h.01M1131.3 825.8h.01M1141.9 813.8h.01M1152.2 801.4h.01M1161.6 789.8h.01M1171.1 778.3h.01M1180.8 766.6h.01M1190.5 754.7h.01M1200.6 742.5h.01M1211.2 730.3h.01M1221.9 718.6h.01M1232.4 706.8h.01M1242.8 694.8h.01M1253.9 682.5h.01M1266 670.5h.01M1278.5 659.1h.01M1291.3 647.7h.01M1304.8 636.2h.01M1318.5 624.7h.01M1332.6 613.1h.01M1347.6 602.2h.01M1363.8 591.2h.01M1381 580.4h.01M1398.7 570.6h.01M1417 561.4h.01M1436.2 552.5h.01M1456.8 544.2h.01M1478.8 536.9h.01M1501.8 530.5h.01M1526 525.7h.01M1551.3 523h.01M1577.3 522.1h.01M1604 522.6h.01M1631.3 525.2h.01M1658.8 530.6h.01M1686 538.8h.01M1712.8 549.5h.01M1738.9 563.2h.01M1763.6 579.5h.01M1786.4 598.3h.01M1806.3 618.5h.01M1823.7 640.6h.01M1839.1 665.1h.01M1852.5 690.2h.01" stroke="#4DBEEE" stroke-width="8.6" stroke-linecap="round" fill="none"/>
<path d="M1852.5 1285.5h.01M1847.1 1274.3h.01M1841.8 1263.6h.01M1836.3 1252.9h.01M1829.9 1241.6h.01M1823 1230.3h.01M1816.2 1219.2h.01M1809.3 1208.5h.01" stroke="#77AC30" stroke-width="8.6" stroke-linecap="round" fill="none"/>
<path d="M1852.5 899.5h.01M1847.1 910.7h.01M1841.8 921.4h.01M1836.3 932.1h.01M1829.9 943.4h.01M1823 954.7h.01M1816.2 965.8h.01M1809.3 976.5h.01" stroke="#4DBEEE" stroke-width="8.6" stroke-linecap="round" fill="none"/>
<path d="M1668.5 1093.5L1668.9 1093.8L1669.4 1094.1L1669.9 1094.5L1670.6 1095L1671.3 1095.3L1672 1095.5L1672.7 1095.6L1673.5 1095.5L1674.3 1095.4L1675.2 1095.2L1676.1 1095L1677 1094.7L1677.9 1094.4L1678.7 1094.2L1679.5 1093.8L1680.5 1093.4L1681.7 1092.8L1683.2 1092L1685.1 1090.9L1687.4 1089.6L1689.9 1088.2L1692.6 1086.6L1695.2 1084.9L1697.7 1083.3L1700.1 1081.6L1702.5 1079.9L1704.9 1078L1707.2 1076.2L1709.6 1074.3L1712 1072.5L1714.4 1070.7L1716.8 1069L1719.2 1067.2L1721.7 1065.5L1724.1 1063.6L1726.5 1061.7L1728.9 1059.7L1731.3 1057.6L1733.7 1055.4L1736.1 1053.2L1738.5 1051L1740.9 1048.7L1743.3 1046.4L1745.7 1044L1748.1 1041.6L1750.5 1039.2L1752.9 1036.7L1755.3 1034.3L1757.7 1031.9L1760.1 1029.5L1762.5 1027.1L1764.9 1024.7L1767.3 1022.3L1769.7 1019.9L1772.1 1017.5L1774.6 1015L1777.1 1012.6L1779.5 1010.1L1781.9 1007.8L1784.1 1005.5L1786.2 1003.3L1788.2 1001.2L1790.2 999.2L1792 997.2L1793.9 995.2L1795.7 993.2L1797.6 991.1L1799.6 988.9L1801.5 986.6L1803.3 984.6L1804.8 982.9L1805.9 981.6" stroke="#77AC30" stroke-width="8.0" stroke-linecap="round" stroke-linejoin="round" fill="none"/>
<path d="M1668.5 1091.5L1668.9 1091.2L1669.4 1090.9L1669.9 1090.5L1670.6 1090L1671.3 1089.7L1672 1089.5L1672.7 1089.4L1673.5 1089.5L1674.3 1089.6L1675.2 1089.8L1676.1 1090L1677 1090.3L1677.9 1090.6L1678.7 1090.8L1679.5 1091.2L1680.5 1091.6L1681.7 1092.2L1683.2 1093L1685.1 1094.1L1687.4 1095.4L1689.9 1096.8L1692.6 1098.4L1695.2 1100.1L1697.7 1101.7L1700.1 1103.4L1702.5 1105.1L1704.9 1107L1707.2 1108.8L1709.6 1110.7L1712 1112.5L1714.4 1114.3L1716.8 1116L1719.2 1117.8L1721.7 1119.5L1724.1 1121.4L1726.5 1123.3L1728.9 1125.3L1731.3 1127.4L1733.7 1129.6L1736.1 1131.8L1738.5 1134L1740.9 1136.3L1743.3 1138.6L1745.7 1141L1748.1 1143.4L1750.5 1145.8L1752.9 1148.3L1755.3 1150.7L1757.7 1153.1L1760.1 1155.5L1762.5 1157.9L1764.9 1160.3L1767.3 1162.7L1769.7 1165.1L1772.1 1167.5L1774.6 1170L1777.1 1172.4L1779.5 1174.9L1781.9 1177.2L1784.1 1179.5L1786.2 1181.7L1788.2 1183.8L1790.2 1185.8L1792 1187.8L1793.9 1189.8L1795.7 1191.8L1797.6 1193.9L1799.6 1196.1L1801.5 1198.4L1803.3 1200.4L1804.8 1202.1L1805.9 1203.4" stroke="#4DBEEE" stroke-width="8.0" stroke-linecap="round" stroke-linejoin="round" fill="none"/>
<path d="M1709.5 1093L1709.9 1093.3L1710.4 1093.6L1710.9 1094.1L1711.6 1094.5L1712.3 1094.9L1713 1095.2L1713.7 1095.4L1714.4 1095.7L1715.2 1095.8L1716.1 1096L1717 1096L1718 1096L1719.2 1095.9L1720.5 1095.8L1721.8 1095.5L1723.2 1095.3L1724.6 1094.9L1726 1094.5L1727.2 1094L1728.3 1093.6L1729.5 1093L1730.6 1092.4L1732 1091.5L1733.7 1090.5L1735.7 1089.2L1738 1087.6L1740.5 1085.9L1743.1 1084.1L1745.6 1082.2L1748.1 1080.4L1750.5 1078.6L1752.9 1076.7L1755.3 1074.7L1757.7 1072.8L1760.1 1070.8L1762.5 1068.9L1764.9 1067L1767.3 1065.1L1769.7 1063.2L1772.1 1061.3L1774.5 1059.4L1776.9 1057.4L1779.3 1055.4L1781.7 1053.4L1784.1 1051.3L1786.5 1049.2L1788.9 1047.2L1791.3 1045.1L1793.7 1043.1L1796.1 1041.1L1798.5 1039L1800.9 1037L1803.3 1035L1805.7 1032.9L1808.1 1030.8L1810.5 1028.6L1813 1026.5L1815.4 1024.3L1817.8 1022.1L1820.2 1019.9L1822.6 1017.7L1825.1 1015.6L1827.5 1013.4L1829.9 1011.2L1832.3 1009L1834.6 1006.9L1836.9 1004.7L1839.1 1002.6L1841.3 1000.4L1843.4 998.2L1845.5 996.2L1847.5 994.2L1849.5 992.2L1851.6 990.2L1853.6 988.3L1855.4 986.6L1856.9 985.1L1858 984" stroke="#D95319" stroke-width="8.0" stroke-linecap="round" stroke-linejoin="round" fill="none"/>
<path d="M1709.5 1092L1709.9 1091.7L1710.4 1091.4L1710.9 1090.9L1711.6 1090.5L1712.3 1090.1L1713 1089.8L1713.7 1089.6L1714.4 1089.3L1715.2 1089.2L1716.1 1089L1717 1089L1718 1089L1719.2 1089.1L1720.5 1089.2L1721.8 1089.5L1723.2 1089.7L1724.6 1090.1L1726 1090.5L1727.2 1091L1728.3 1091.4L1729.5 1092L1730.6 1092.6L1732 1093.5L1733.7 1094.5L1735.7 1095.8L1738 1097.4L1740.5 1099.1L1743.1 1100.9L1745.6 1102.8L1748.1 1104.6L1750.5 1106.4L1752.9 1108.3L1755.3 1110.3L1757.7 1112.2L1760.1 1114.2L1762.5 1116.1L1764.9 1118L1767.3 1119.9L1769.7 1121.8L1772.1 1123.7L1774.5 1125.6L1776.9 1127.6L1779.3 1129.6L1781.7 1131.6L1784.1 1133.7L1786.5 1135.8L1788.9 1137.8L1791.3 1139.9L1793.7 1141.9L1796.1 1143.9L1798.5 1146L1800.9 1148L1803.3 1150L1805.7 1152.1L1808.1 1154.2L1810.5 1156.4L1813 1158.5L1815.4 1160.7L1817.8 1162.9L1820.2 1165.1L1822.6 1167.3L1825.1 1169.4L1827.5 1171.6L1829.9 1173.8L1832.3 1176L1834.6 1178.1L1836.9 1180.3L1839.1 1182.4L1841.3 1184.6L1843.4 1186.8L1845.5 1188.8L1847.5 1190.8L1849.5 1192.8L1851.6 1194.8L1853.6 1196.7L1855.4 1198.4L1856.9 1199.9L1858 1201" stroke="#EDB120" stroke-width="8.0" stroke-linecap="round" stroke-linejoin="round" fill="none"/>
<path d="M1754 1093L1754.4 1093.3L1754.9 1093.7L1755.4 1094.2L1756.1 1094.7L1756.8 1095.2L1757.5 1095.5L1758.2 1095.7L1759 1095.9L1759.8 1096.1L1760.6 1096.2L1761.5 1096.2L1762.5 1096.2L1763.6 1096.1L1764.8 1096L1766.1 1095.8L1767.5 1095.6L1768.8 1095.3L1770 1095L1771.1 1094.7L1772.1 1094.3L1773 1094L1774.1 1093.5L1775.3 1092.9L1776.9 1092L1778.9 1090.9L1781.1 1089.6L1783.6 1088.1L1786.2 1086.6L1788.8 1084.9L1791.3 1083.3L1793.7 1081.6L1796.1 1079.9L1798.5 1078L1800.9 1076.2L1803.3 1074.3L1805.7 1072.5L1808.1 1070.7L1810.5 1068.9L1813 1067.1L1815.4 1065.4L1817.8 1063.5L1820.2 1061.7L1822.6 1059.8L1825 1057.9L1827.4 1056L1829.8 1054.1L1832.2 1052.1L1834.6 1050.2L1837.1 1048.2L1839.6 1046.2L1842.1 1044.1L1844.6 1042.1L1846.9 1040.2L1849 1038.6L1850.9 1037.1L1852.7 1035.8L1854.4 1034.6L1855.9 1033.5L1857.1 1032.7L1858 1032" stroke="#0072BD" stroke-width="8.0" stroke-linecap="round" stroke-linejoin="round" fill="none"/>
<path d="M1754 1092L1754.4 1091.7L1754.9 1091.3L1755.4 1090.8L1756.1 1090.3L1756.8 1089.8L1757.5 1089.5L1758.2 1089.3L1759 1089.1L1759.8 1088.9L1760.6 1088.8L1761.5 1088.8L1762.5 1088.8L1763.6 1088.9L1764.8 1089L1766.1 1089.2L1767.5 1089.4L1768.8 1089.7L1770 1090L1771.1 1090.3L1772.1 1090.7L1773 1091L1774.1 1091.5L1775.3 1092.1L1776.9 1093L1778.9 1094.1L1781.1 1095.4L1783.6 1096.9L1786.2 1098.4L1788.8 1100.1L1791.3 1101.7L1793.7 1103.4L1796.1 1105.1L1798.5 1107L1800.9 1108.8L1803.3 1110.7L1805.7 1112.5L1808.1 1114.3L1810.5 1116.1L1813 1117.9L1815.4 1119.6L1817.8 1121.5L1820.2 1123.3L1822.6 1125.2L1825 1127.1L1827.4 1129L1829.8 1130.9L1832.2 1132.9L1834.6 1134.8L1837.1 1136.8L1839.6 1138.8L1842.1 1140.9L1844.6 1142.9L1846.9 1144.8L1849 1146.4L1850.9 1147.9L1852.7 1149.2L1854.4 1150.4L1855.9 1151.5L1857.1 1152.3L1858 1153" stroke="#D95319" stroke-width="8.0" stroke-linecap="round" stroke-linejoin="round" fill="none"/>
<path d="M750 1092.5L780 1092.5M754.4 1081.9L775.6 1103.1M765 1077.5L765 1107.5M775.6 1081.9L754.4 1103.1" stroke="#77AC30" stroke-width="4" fill="none"/>
<path d="M825.2 836.7L829.6 828L834.1 819.5L838.8 811L843.6 802.6L848.6 794.3L853.7 786.1L859 778L864.4 770L869.9 762.1L875.6 754.2L881.4 746.5L887.3 738.9L893.4 731.4L899.5 724L905.8 716.7L912.3 709.6L918.8 702.5L925.5 695.6L932.2 688.8L939.1 682.1L946.1 675.5L953.3 669.1L960.5 662.7L967.8 656.6L975.2 650.5L982.8 644.6L990.4 638.8L998.1 633.2L1006 627.7L1013.9 622.3L1021.9 617.1L1030 612L1038.2 607.1L1046.4 602.3L1054.8 597.7L1063.2 593.2L1071.7 588.9L1080.2 584.7L1088.9 580.7L1097.6 576.8L1106.3 573.1L1115.2 569.5L1124 566.1L1133 562.9L1142 559.8L1151 556.9L1160.1 554.2L1169.3 551.6L1178.4 549.2L1187.7 546.9L1196.9 544.8L1206.2 542.9L1215.5 541.1L1224.9 539.5L1234.3 538.1L1243.7 536.9L1253.1 535.8L1262.5 534.8L1272 534.1L1281.4 533.5L1290.9 533.1L1300.4 532.9L1309.8 532.8L1319.3 532.9L1328.8 533.2L1338.3 533.6L1347.7 534.2L1357.2 535L1366.6 535.9L1376 537.1L1385.4 538.3L1394.8 539.8L1404.1 541.4L1413.4 543.2L1422.7 545.2L1432 547.3L1441.2 549.6L1450.4 552L1459.5 554.6L1468.6 557.4L1477.6 560.4L1486.6 563.5L1495.5 566.7L1504.4 570.2L1513.2 573.7L1522 577.5L1530.7 581.4L1539.3 585.4L1547.8 589.6L1556.3 594L1564.7 598.5L1573 603.2L1581.3 608L1589.5 612.9L1597.5 618L1605.5 623.3L1613.4 628.6L1621.2 634.2L1628.9 639.8L1636.6 645.6L1644.1 651.6L1651.5 657.7L1658.8 663.9L1666 670.2L1673.1 676.7L1680.1 683.2L1687 690L1693.7 696.8L1700.4 703.7L1706.9 710.8L1713.3 718L1719.6 725.3L1725.7 732.7" stroke="#EDB120" stroke-width="3.5" stroke-linecap="butt" stroke-linejoin="round" fill="none"/>
<path d="M1725.7 732.7L1731.6 740.1L1737.4 747.6L1743.1 755.2L1748.7 762.9L1754.1 770.7L1759.4 778.5L1764.5 786.5L1769.5 794.6L1774.4 802.7L1779.2 811L1783.8 819.3L1788.2 827.7L1792.6 836.1L1796.8 844.7L1800.8 853.3L1804.7 862L1808.5 870.8L1812.1 879.6L1815.6 888.5L1818.9 897.4L1822.1 906.4L1825.1 915.5L1827.9 924.6L1830.7 933.7L1833.2 942.9L1835.6 952.2L1837.9 961.5L1840 970.8L1841.9 980.1L1843.7 989.5L1845.4 999L1846.8 1008.4L1848.1 1017.9L1849.3 1027.4L1850.3 1036.9" stroke="#A2142F" stroke-width="3.5" stroke-linecap="butt" stroke-linejoin="round" fill="none"/>
<path d="M1850.3 1036.9L1851.1 1046.2L1851.8 1055.4L1852.3 1064.7L1852.7 1073.9L1852.9 1083.2L1853 1092.5" stroke="#7E2F8E" stroke-width="3.5" stroke-linecap="butt" stroke-linejoin="round" fill="none"/>
<path d="M1853 1092.5L1852.9 1102.2L1852.7 1111.8L1852.3 1121.5L1851.7 1131.1L1851 1140.8L1850.1 1150.4L1849 1160L1847.8 1169.6L1846.4 1179.2L1844.9 1188.7L1843.2 1198.2L1841.4 1207.7L1839.3 1217.1L1837.2 1226.5L1834.8 1235.9L1832.4 1245.2L1829.7 1254.5L1826.9 1263.7L1824 1272.9L1820.9 1282L1817.6 1291.1L1814.2 1300.1L1810.6 1309L1806.9 1317.9L1803.1 1326.7L1799.1 1335.5L1794.9 1344.1L1790.6 1352.7L1786.2 1361.3L1781.6 1369.7L1776.9 1378.1L1772 1386.3L1767 1394.5L1761.9 1402.6L1756.6 1410.6L1751.2 1418.5L1745.7 1426.3L1740 1434L1734.2 1441.6L1728.3 1449.1L1722.2 1456.5L1716 1463.8L1709.7 1471L1703.3 1478.1L1696.8 1485L1690.2 1491.8L1683.4 1498.6L1676.5 1505.2" stroke="#A2142F" stroke-width="3.5" stroke-linecap="butt" stroke-linejoin="round" fill="none"/>
<path d="M1676.5 1505.2L1670.5 1510.7L1664.5 1516.2L1658.3 1521.6L1652.1 1526.9" stroke="#EDB120" stroke-width="3.5" stroke-linecap="butt" stroke-linejoin="round" fill="none"/>
<path d="M1652.1 1526.9L1645 1532.6L1637.9 1538.3L1630.7 1543.9L1623.4 1549.3" stroke="#A2142F" stroke-width="3.5" stroke-linecap="butt" stroke-linejoin="round" fill="none"/>
<path d="M1623.4 1549.3L1616.4 1554.2L1609.5 1559.1L1602.4 1563.8L1595.3 1568.4L1588.1 1572.9L1580.8 1577.3L1573.5 1581.6L1566.1 1585.8" stroke="#EDB120" stroke-width="3.5" stroke-linecap="butt" stroke-linejoin="round" fill="none"/>
<path d="M1566.1 1585.8L1557.7 1590.3L1549.2 1594.7L1540.7 1598.9L1532.1 1603L1523.5 1606.9L1514.7 1610.6L1505.9 1614.2L1497.1 1617.7L1488.2 1621L1479.2 1624.1L1470.2 1627.1L1461.1 1629.9L1452 1632.5L1442.9 1635L1433.7 1637.3L1424.5 1639.4L1415.2 1641.4L1405.9 1643.2L1396.6 1644.9L1387.2 1646.4L1377.9 1647.7L1368.5 1648.8L1359 1649.8L1349.6 1650.6L1340.2 1651.3L1330.7 1651.8L1321.3 1652.1L1311.8 1652.2L1302.3 1652.2L1292.9 1652L1283.4 1651.6L1274 1651L1264.5 1650.3L1255.1 1649.4L1245.7 1648.4L1236.3 1647.2L1227 1645.8L1217.6 1644.2L1208.3 1642.5L1199 1640.6L1189.8 1638.6L1180.6 1636.4L1171.4 1634L1162.3 1631.5L1153.2 1628.7L1144.1 1625.9L1135.1 1622.8L1126.2 1619.7L1117.3 1616.3L1108.5 1612.8L1099.7 1609.1L1091 1605.3L1082.4 1601.3L1073.8 1597.2L1065.3 1592.9L1056.9 1588.5L1048.5 1583.9L1040.3 1579.1L1032.1 1574.3L1024 1569.2L1016 1564.1L1008 1558.8L1000.2 1553.3L992.5 1547.7L984.8 1542L977.3 1536.1L969.8 1530.1L962.5 1524L955.2 1517.7L948.1 1511.3L941.1 1504.8L934.2 1498.1L927.4 1491.4L920.7 1484.5L914.1 1477.5L907.7 1470.3L901.3 1463.1L895.1 1455.7L889.1 1448.3L883.1 1440.7L877.3 1433L871.6 1425.3L866 1417.4L860.6 1409.4L855.3 1401.3L850.2 1393.2L845.2 1384.9L840.3 1376.6L835.5 1368.1L831 1359.6L826.5 1351L822.2 1342.4L818.1 1333.6L814.1 1324.8L810.2 1315.9L806.5 1306.9L803 1297.9L799.6 1288.8L796.3 1279.7L793.2 1270.5L790.3 1261.2L787.5 1251.9L784.9 1242.6L782.5 1233.2L780.2 1223.7L778 1214.2L776 1204.7L774.2 1195.2L772.6 1185.6L771.1 1176L769.8 1166.3L768.6 1156.7L767.6 1147L766.7 1137.3L766.1 1127.6L765.6 1117.9L765.2 1108.1" stroke="#7E2F8E" stroke-width="3.5" stroke-linecap="butt" stroke-linejoin="round" fill="none"/>
<path d="M771.7 1004.9L773.2 995.7L774.8 986.5L776.6 977.3L778.6 968.2L780.7 959.1L782.9 950L785.3 941L787.8 932L790.5 923.1L793.4 914.2L796.3 905.3L799.4 896.5L802.7 887.8L806.1 879.1L809.6 870.5L813.3 861.9L817.1 853.4L821.1 845L825.2 836.7" stroke="#7E2F8E" stroke-width="3.5" stroke-linecap="butt" stroke-linejoin="round" fill="none"/>
<path d="M765.2 1108.1L765 1098.7L765 1089.3L765.1 1079.9L765.4 1070.5L765.9 1061.1L766.4 1051.7L767.2 1042.3L768.1 1032.9L769.1 1023.6L770.3 1014.3L771.7 1004.9" stroke="#EDB120" stroke-width="3.5" stroke-linecap="butt" stroke-linejoin="round" fill="none"/>
<path d="M857.6 1093.2L856.7 1092.9L855.5 1092.4L854.1 1091.9L852.6 1091.2L851.1 1090.6L849.6 1089.9L848.2 1089.2L846.8 1088.4L845.4 1087.6L844 1086.7L842.5 1085.8L841 1084.9L839.5 1084L837.9 1083.2L836.3 1082.3L834.6 1081.4L832.8 1080.3L830.9 1079.1L828.8 1077.7L826.4 1076.2L824 1074.5L821.5 1072.7L819 1070.9L816.5 1069L814.1 1067L811.7 1065L809.2 1062.9L806.8 1060.6L804.4 1058.4L802 1056L799.6 1053.6L797.2 1051.1L794.9 1048.6L792.5 1045.9L790.1 1043.1L787.7 1040.2L785.2 1037L782.6 1033.6L780.1 1030.1L777.6 1026.5L775.3 1023.1L773.2 1020L771.5 1017.2L770 1014.7L768.7 1012.3L767.5 1010L766.3 1007.6L765 1005L763.6 1002.2L762.1 999.3L760.6 996.2L759.1 993.2L757.6 990.3L756.2 987.5L754.9 984.9L753.6 982.3L752.3 979.8L751.1 977.4L749.9 975L748.8 972.5L747.6 970L746.5 967.5L745.5 965L744.5 962.5L743.5 960L742.5 957.5L741.5 955L740.6 952.4L739.6 949.8L738.7 947.3L737.9 944.9L737 942.5L736.2 940.3L735.4 938.1L734.6 936.1L733.9 934.1L733.2 932.1L732.5 930L731.8 927.9L731.2 925.7L730.6 923.6L730.1 921.5L729.5 919.4L729 917.5L728.5 915.7L728.1 914L727.7 912.3L727.3 910.7L726.9 909.1L726.5 907.5L726.1 905.8L725.8 904.2L725.4 902.5L725.1 900.8L724.8 899.2L724.5 897.5L724.2 895.8L723.9 894.2L723.7 892.5L723.4 890.8L723.2 889.2L723 887.5L722.8 885.7L722.6 883.8L722.4 881.9L722.2 880.1L722.1 878.6L722 877.5" stroke="#0072BD" stroke-width="8.0" stroke-linecap="round" stroke-linejoin="round" fill="none"/>
</g>
<path d="M221.5 251V1932.5H1855" stroke="#262626" stroke-width="3" fill="none"/>
<path d="M493 1932.5v-18.5M765 1932.5v-18.5M1037 1932.5v-18.5M1309 1932.5v-18.5M1581 1932.5v-18.5M1853 1932.5v-18.5M221.5 1652.2h18.5M221.5 1372.3h18.5M221.5 1092.5h18.5M221.5 812.6h18.5M221.5 532.8h18.5M221.5 252.9h18.5" stroke="#262626" stroke-width="4" fill="none"/>
<path d="M810.6 265.5V703.9" stroke="#000" stroke-width="9" fill="none"/>
<path d="M810.6 760.6L788.9 686.2L810.6 701.9L832.3 686.2z" fill="#000"/>
<path d="M985 369.5V673.4" stroke="#000" stroke-width="7.8" fill="none"/>
<path d="M985 719.3L967.5 656.8L985 671.4L1002.5 656.8z" fill="#000"/>
<path d="M1190.4 589V873.5" stroke="#000" stroke-width="6.7" fill="none"/>
<path d="M1190.4 920.1L1172.9 859.1L1190.4 871.5L1207.9 859.1z" fill="#000"/>
<path d="M534 141V874H652" stroke="#000" stroke-width="8" fill="none" stroke-linejoin="miter"/>
<path d="M697 873.8L636.8 857L649.4 873.8L636.8 890.9z" fill="#000"/>
<path d="M612.3 1188.5H621M634.6 1174.5V1196.5M627.2 1196.5H641.8M627.2 1173.2H641.8" stroke="#222" stroke-width="3" fill="none"/>
<path d="M549 1022.6H680" stroke="#0000FF" stroke-width="7" fill="none"/>
<rect x="603" y="1009" width="27" height="27" fill="#0000FF"/>
<path d="M736.1 1022.5L669 997.1Q682 1022.5 669 1047.9z" fill="#0000FF"/>
<path d="M544 1172H672" stroke="#0000FF" stroke-width="6.4" fill="none" stroke-dasharray="16.8 4.3"/>
<rect x="597" y="1158" width="27" height="27" fill="#0000FF"/>
<path d="M731 1172.2L662.9 1146.9Q675.9 1172.2 662.9 1197.5z" fill="#0000FF"/>
<path d="M292 1762.9H455" stroke="#0000FF" stroke-width="8" fill="none"/>
<path d="M383.4 1736L407 1777.8H360z" fill="#0000FF"/>
<path d="M524.5 1762.8L440.7 1731Q458.7 1762.8 440.7 1794.6z" fill="#0000FF"/>
<path d="M290.2 1849.9H452" stroke="#0000FF" stroke-width="8.2" fill="none" stroke-dasharray="20 6.2"/>
<path d="M376 1823L400 1864H351.8z" fill="#0000FF"/>
<path d="M523 1849.7L438.9 1817.9Q456.9 1849.7 438.9 1881.5z" fill="#0000FF"/>
<path d="M1101 1047.9H1205" stroke="#0000FF" stroke-width="4" fill="none"/>
<path d="M1147.8 1037.2L1159.8 1057.7H1136z" fill="#0000FF"/>
<path d="M1239.6 1047.9L1197 1032Q1206 1047.9 1197 1063.8z" fill="#0000FF"/>
<path d="M1099 1125.9H1200" stroke="#0000FF" stroke-width="4" fill="none" stroke-dasharray="14.8 12.2"/>
<path d="M1146.2 1115.1L1158 1135.9H1134z" fill="#0000FF"/>
<path d="M1238 1125.7L1195.9 1109.4Q1204.9 1125.7 1195.9 1142z" fill="#0000FF"/>
<text x="297" y="90.8" font-size="84.8" fill="#000" xml:space="preserve"><tspan>original </tspan><tspan stroke="#000" stroke-width="0.8" font-size="65" font-family="'Liberation Sans',sans-serif" x="581.4" dy="-13">|</tspan><tspan font-size="88" font-weight="bold" dy="13">Y</tspan><tspan font-size="54" dx="-10" dy="17">pn</tspan><tspan stroke="#000" stroke-width="0.8" font-size="65" font-family="'Liberation Sans',sans-serif" x="706.5" dy="-30">|</tspan><tspan font-size="88" dy="13"> ,</tspan><tspan stroke="#000" stroke-width="0.8" font-size="65" font-family="'Liberation Sans',sans-serif" x="767.3" dy="-13">|</tspan><tspan font-size="88" font-weight="bold" dy="13">Y</tspan><tspan font-size="54" dx="-10" dy="17">np</tspan><tspan stroke="#000" stroke-width="0.8" font-size="65" font-family="'Liberation Sans',sans-serif" x="892.5" dy="-30">|</tspan></text>
<text x="0" y="204.6" font-size="88" fill="#000" xml:space="preserve"><tspan stroke="#000" stroke-width="0.8" font-size="65" font-family="'Liberation Sans',sans-serif" x="643.5" dy="-13">|</tspan><tspan font-size="88" font-weight="bold" dy="13">Y</tspan><tspan font-size="54" dx="-10" dy="17">pn1</tspan><tspan stroke="#000" stroke-width="0.8" font-size="65" font-family="'Liberation Sans',sans-serif" x="796.0" dy="-30">|</tspan><tspan dy="13">=0.9</tspan><tspan stroke="#000" stroke-width="0.8" font-size="65" font-family="'Liberation Sans',sans-serif" x="972.8" dy="-13">|</tspan><tspan font-size="88" font-weight="bold" dy="13">Y</tspan><tspan font-size="54" dx="-10" dy="17">pn</tspan><tspan stroke="#000" stroke-width="0.8" font-size="65" font-family="'Liberation Sans',sans-serif" x="1097.0" dy="-30">|</tspan><tspan dy="13"> , </tspan><tspan stroke="#000" stroke-width="0.8" font-size="65" font-family="'Liberation Sans',sans-serif" x="1181.0" dy="-13">|</tspan><tspan font-size="88" font-weight="bold" dy="13">Y</tspan><tspan font-size="54" dx="-10" dy="17">np1</tspan><tspan stroke="#000" stroke-width="0.8" font-size="65" font-family="'Liberation Sans',sans-serif" x="1333.2" dy="-30">|</tspan><tspan dy="13">=0.9</tspan><tspan stroke="#000" stroke-width="0.8" font-size="65" font-family="'Liberation Sans',sans-serif" x="1508.2" dy="-13">|</tspan><tspan font-size="88" font-weight="bold" dy="13">Y</tspan><tspan font-size="54" dx="-10" dy="17">np</tspan><tspan stroke="#000" stroke-width="0.8" font-size="65" font-family="'Liberation Sans',sans-serif" x="1636.0" dy="-30">|</tspan></text>
<text x="0" y="333" font-size="88" fill="#000" xml:space="preserve"><tspan stroke="#000" stroke-width="0.8" font-size="65" font-family="'Liberation Sans',sans-serif" x="858.5" dy="-13">|</tspan><tspan font-size="88" font-weight="bold" dy="13">Y</tspan><tspan font-size="54" dx="-10" dy="17">pn2</tspan><tspan stroke="#000" stroke-width="0.8" font-size="65" font-family="'Liberation Sans',sans-serif" x="1012.0" dy="-30">|</tspan><tspan dy="13">=0.8</tspan><tspan stroke="#000" stroke-width="0.8" font-size="65" font-family="'Liberation Sans',sans-serif" x="1188.5" dy="-13">|</tspan><tspan font-size="88" font-weight="bold" dy="13">Y</tspan><tspan font-size="54" dx="-10" dy="17">pn</tspan><tspan stroke="#000" stroke-width="0.8" font-size="65" font-family="'Liberation Sans',sans-serif" x="1313.5" dy="-30">|</tspan><tspan dy="13"> , </tspan><tspan stroke="#000" stroke-width="0.8" font-size="65" font-family="'Liberation Sans',sans-serif" x="1397.1" dy="-13">|</tspan><tspan font-size="88" font-weight="bold" dy="13">Y</tspan><tspan font-size="54" dx="-10" dy="17">np2</tspan><tspan stroke="#000" stroke-width="0.8" font-size="65" font-family="'Liberation Sans',sans-serif" x="1549.5" dy="-30">|</tspan><tspan dy="13">=0.8</tspan><tspan stroke="#000" stroke-width="0.8" font-size="65" font-family="'Liberation Sans',sans-serif" x="1726.5" dy="-13">|</tspan><tspan font-size="88" font-weight="bold" dy="13">Y</tspan><tspan font-size="54" dx="-10" dy="17">np</tspan><tspan stroke="#000" stroke-width="0.8" font-size="65" font-family="'Liberation Sans',sans-serif" x="1853.5" dy="-30">|</tspan></text>
<text x="1095.7" y="446.5" font-size="85" fill="#000" xml:space="preserve"><tspan>diagonal model with</tspan></text>
<text x="1097" y="555.9" font-size="85.5" fill="#000" xml:space="preserve"><tspan>zero </tspan><tspan stroke="#000" stroke-width="0.8" font-size="65" font-family="'Liberation Sans',sans-serif" x="1267.5" dy="-13">|</tspan><tspan font-size="88" font-weight="bold" dy="13">Y</tspan><tspan font-size="54" dx="-10" dy="17">pn</tspan><tspan stroke="#000" stroke-width="0.8" font-size="65" font-family="'Liberation Sans',sans-serif" x="1392.0" dy="-30">|</tspan><tspan font-size="88" dy="13"> ,</tspan><tspan stroke="#000" stroke-width="0.8" font-size="65" font-family="'Liberation Sans',sans-serif" x="1453.3" dy="-13">|</tspan><tspan font-size="88" font-weight="bold" dy="13">Y</tspan><tspan font-size="54" dx="-10" dy="17">np</tspan><tspan stroke="#000" stroke-width="0.8" font-size="65" font-family="'Liberation Sans',sans-serif" x="1578.2" dy="-30">|</tspan></text>
<text x="332" y="1048" font-size="86" fill="#000" xml:space="preserve"><tspan>56Hz</tspan></text>
<text x="337.5" y="1197" font-size="86" fill="#000" xml:space="preserve"><tspan>44Hz</tspan></text>
<text x="260.5" y="1538.8" font-size="84" fill="#000" xml:space="preserve"><tspan>eigenloci of</tspan></text>
<text x="260.5" y="1647.9" font-size="84.6" fill="#000" xml:space="preserve"><tspan>diagonal model</tspan></text>
<text x="546.5" y="1782.6" font-size="86" fill="#000" xml:space="preserve"><tspan>56Hz</tspan></text>
<text x="543" y="1884" font-size="86" fill="#000" xml:space="preserve"><tspan>44Hz</tspan></text>
<text x="168.1" y="2033.2" font-size="88" fill="#262626" xml:space="preserve"><tspan>-1</tspan></text>
<text x="410.9" y="2033.2" font-size="88" fill="#262626" xml:space="preserve"><tspan>-0.5</tspan></text>
<text x="737.7" y="2033.2" font-size="88" fill="#262626" xml:space="preserve"><tspan>0</tspan></text>
<text x="989.7" y="2033.2" font-size="88" fill="#262626" xml:space="preserve"><tspan>0.5</tspan></text>
<text x="1291.1" y="2033.2" font-size="88" fill="#262626" xml:space="preserve"><tspan>1</tspan></text>
<text x="1526.1" y="2033.2" font-size="88" fill="#262626" xml:space="preserve"><tspan>1.5</tspan></text>
<text x="1825.4" y="2033.2" font-size="88" fill="#262626" xml:space="preserve"><tspan>2</tspan></text>
<text x="190.0" y="551.1" font-size="88" fill="#262626" text-anchor="end">1</text>
<text x="201.8" y="829.8" font-size="88" fill="#262626" text-anchor="end">0.5</text>
<text x="190.1" y="1107.4" font-size="88" fill="#262626" text-anchor="end">0</text>
<text x="201.0" y="1411" font-size="88" fill="#262626" text-anchor="end">-0.5</text>
<text x="202.3" y="1701.6" font-size="88" fill="#262626" text-anchor="end">-1</text>
<text x="1042.5" y="2128.4" font-size="79.5" fill="#262626" text-anchor="middle">Re</text>
<text transform="translate(77,1097.5) rotate(-90)" font-size="80" fill="#000" text-anchor="middle">Im</text>
</svg></body></html>
